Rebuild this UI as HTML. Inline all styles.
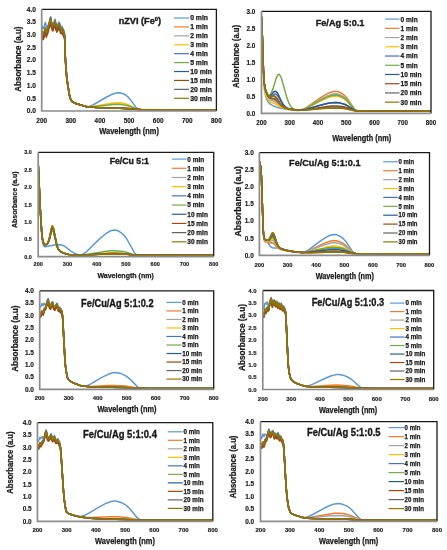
<!DOCTYPE html>
<html><head><meta charset="utf-8"><style>
html,body{margin:0;padding:0;background:#fff;}
svg{display:block;will-change:transform;filter:blur(0.3px);}
text{font-family:"Liberation Sans",sans-serif;font-weight:bold;fill:#1a1a1a;stroke:#1a1a1a;stroke-width:0.25px;}
.tl{stroke-width:0.15px;}
.tt{stroke-width:0.35px;}
</style></head><body>
<svg width="447" height="550" viewBox="0 0 447 550">
<rect width="447" height="550" fill="#fff"/>
<clipPath id="c0"><rect x="41.7" y="8.8" width="174.7" height="102.2"/></clipPath>
<g clip-path="url(#c0)" fill="none" stroke-width="1.5" stroke-linejoin="round">
<polyline stroke="#5B9BD5" points="41.7,30.8 42,27.7 42.3,26.5 42.9,27.1 43.2,28.4 43.4,28.7 43.7,28.1 44,28.1 44.6,24.6 44.9,24.2 45.2,22.6 45.8,23.7 46.4,27.8 46.6,26.9 46.9,26.8 47.2,27.8 47.5,27.4 48.1,25 48.4,24.6 49,22.4 49.3,22 50.1,18 50.7,16.6 51.9,23.5 52.2,23.1 52.5,24.1 52.8,24.1 53.1,24.6 53.3,22.8 53.6,22.2 53.9,22.7 54.5,20.3 55.1,19.1 56.3,24.7 56.5,25.1 57.4,25 57.7,24.3 58,24.6 58.6,22.1 59.5,22.4 60.6,26.7 60.9,26.9 61.2,26.4 61.8,26.6 62.1,26.4 62.7,28.3 63,28.3 63.2,28.7 64.4,32 64.7,34 65.3,54.4 66.2,69 67,77.7 69.1,92.3 69.7,95.6 70.8,99.8 71.4,100.7 72.3,101.6 74.6,103 76.6,103.8 86,106.5 87.1,106.6 89.5,106.2 92.9,105 105.8,97.5 111.6,94.5 116.2,93 119.7,92.7 123.2,93.7 125.6,95 127.9,96.8 130.2,99.4 136,107.4 137.2,108.5 138.4,109.1 139.5,109.4 157,109.7 216.4,110"/>
<polyline stroke="#ED7D31" points="41.7,37.5 42.6,33.9 43.2,36.3 43.7,36.4 44.3,34.6 44.9,31.4 45.2,31.8 45.5,30.2 46.4,34 46.9,33.5 47.8,31.6 48.1,29.3 48.7,28 49.9,23.7 50.4,20.8 50.7,20.3 51.3,24.9 51.9,27.5 52.8,28.1 53.1,27.9 53.3,27.2 53.6,27.3 53.9,25.7 54.2,25.3 54.5,25.5 55.4,24.3 56,28.1 56.3,28.4 56.8,30.5 57.1,30.2 57.4,29.1 57.7,29.1 58.3,27.1 59.2,26.1 60.6,31.4 60.9,30.5 61.5,31.3 62.1,30.1 62.4,31.7 63,33.4 63.2,33.3 63.5,34.7 63.8,34.2 64.1,34.9 64.7,38.2 65.3,58.2 66.2,72.2 67,80.3 69.1,93.5 69.9,97.4 71.1,100.3 72.6,101.9 74.9,103.2 84.8,106.2 89.5,106.9 97.6,107.4 119.7,107.7 127.9,108.2 138.4,109.4 159.3,109.7 216.4,110"/>
<polyline stroke="#A5A5A5" points="41.7,37.2 42,34.1 42.3,33 42.6,33 43.4,35.7 44,34.4 44.3,32.6 44.6,32.4 45.2,28.9 45.5,28.6 46.4,33.3 46.6,32.1 47.2,31.4 47.8,30.3 48.1,27.9 48.4,28 49,24.4 49.6,23.6 50.1,20.1 50.4,19.3 50.7,19 51.6,25.1 51.9,25.3 52.5,27.4 52.8,27.8 53.1,26.7 53.3,26.6 53.9,25.1 54.5,22.8 54.8,23.6 55.1,23 55.7,24.1 56.5,28.5 57.4,27.1 57.7,27.4 58,26.1 58.6,25.4 58.9,24.1 59.2,25 59.5,24.9 59.8,27.2 60,28.2 60.3,27.9 60.6,29.8 60.9,29.3 61.2,29.5 61.5,28.9 61.8,29.5 62.1,29.4 62.4,29.9 62.7,29.9 63,31.3 63.5,32.1 63.8,33.7 64.1,33.7 64.7,36.8 65.3,57 66.2,71.2 67,79.5 69.1,93.1 69.9,97.2 71.1,100.3 72.6,101.9 74.9,103.2 86,106.5 89.5,107 94.1,107.3 119.7,107.9 127.9,108.4 137.2,109.4 140.7,109.5 168.6,109.8 216.4,110"/>
<polyline stroke="#FFC000" points="41.7,38.2 42.3,33.6 42.6,33.3 42.9,33.9 43.2,35.8 43.4,36.1 44,35 45.5,29.3 46.4,33.8 46.6,33.8 47.2,31.5 47.5,31.9 47.8,30 48.1,29.8 48.4,28.5 48.7,26.3 49,26.5 49.6,23 49.9,22.9 50.7,20.1 51,20.6 51.3,24 51.6,24.7 51.9,26.4 52.2,26.4 52.8,28.2 53.1,28 53.3,27 53.6,26.9 53.9,25.3 54.2,25.6 54.5,24.9 54.8,22.8 55.1,23.6 55.4,23.9 56.3,28.5 56.5,28.1 56.8,28.4 57.1,28.2 57.4,29.1 58.3,26 58.6,26 58.9,25.3 59.2,25.1 60.6,30.7 60.9,30.7 61.2,29.6 61.5,30.2 61.8,29.7 62.4,29.6 63.2,33.2 63.5,33.7 63.8,33.3 64.1,33.9 64.7,37.5 65.3,57.6 66.2,71.7 67,79.9 69.1,93.3 69.9,97.3 71.1,100.3 72.6,101.9 74.9,103.2 84.8,106.2 87.1,106.7 89.5,106.7 94.1,106.3 111.6,103.3 116.2,102.9 119.7,102.8 123.2,103.3 126.7,104.2 130.2,105.6 136,108.6 138.4,109.3 140.7,109.5 168.6,109.8 216.4,110"/>
<polyline stroke="#4472C4" points="41.7,36.4 42,34 42.3,32.7 42.6,32.2 43.2,34.9 43.4,35.2 43.7,35.1 44,33.3 44.6,31.7 44.9,29.8 45.5,28.1 46.4,32.8 46.9,31 47.2,31.3 47.5,29.1 47.8,29.3 48.4,25.8 49.3,24 49.9,20.7 50.1,20.4 50.4,18.3 50.7,18.9 51,18.9 51.3,22.8 51.6,24.2 51.9,24.2 52.2,25.2 52.8,25.9 53.1,25.8 53.3,25.3 53.6,25.3 53.9,24.3 54.2,24 54.5,22.4 54.8,21.9 55.1,22.3 55.4,23.3 55.7,23.4 56.5,27.3 56.8,27.2 57.1,27.6 58.3,26.1 58.6,24.5 59.2,23.8 60,27.5 60.6,29 60.9,28.5 61.2,29.1 61.8,28.4 62.4,29.6 62.7,29.7 63.5,32.1 63.8,32.2 64.1,32.7 64.7,36.1 65.3,56.3 66.2,70.6 67,79 69.1,92.9 69.9,97.1 71.1,100.3 72.6,101.9 74.9,103.2 86,106.5 90.6,107.1 96.4,107.5 119.7,108.2 140.7,109.5 168.6,109.8 216.4,110"/>
<polyline stroke="#70AD47" points="41.7,38.9 42,36.9 42.6,35.2 43.7,37.6 44,36 44.3,35.6 44.6,34.5 45.2,31.2 45.5,31.8 45.8,31.9 46.4,35.4 46.9,33.7 47.2,33.6 49,26.5 49.6,25.7 50.7,20.7 51.9,27.9 52.5,29.6 52.8,28.9 53.1,29.7 53.3,27.7 53.9,26.8 54.2,26.6 54.5,24.9 54.8,24.2 55.1,25.2 55.4,25 56.5,30.2 57.1,29.6 57.4,30.1 57.7,28.8 58.3,28.7 58.6,27.8 58.9,27.5 59.2,26.1 59.5,26.6 59.8,29.2 60,29.6 60.6,32 61.2,32.1 61.5,31.2 61.8,32.1 62.1,31.8 62.4,31.7 62.7,33.2 63,33.3 63.2,34.2 63.5,34.3 63.8,35.7 64.4,36.9 64.7,38.9 65.3,58.9 66.2,72.8 67,80.8 69.1,93.7 69.9,97.5 71.1,100.3 72.6,101.9 75.2,103.3 84.8,106.2 87.1,106.7 89.5,106.8 95.3,106.5 112.7,104.5 117.4,104.3 120.9,104.5 124.4,104.9 127.9,105.7 136,108.8 137.2,109.2 139.5,109.4 161.7,109.8 216.4,110"/>
<polyline stroke="#255E91" points="41.7,37.5 42,35 42.6,33.1 43.2,34.8 43.7,35.4 44.6,31.7 45.2,30.2 45.5,29.9 46.1,31.9 46.4,33.9 47.8,29.2 48.1,29.3 48.7,26.4 49.9,22.4 50.1,21.9 50.4,20 50.7,19.5 51.6,24.5 52.2,26.7 52.8,27.7 53.1,27.7 53.3,27.4 54.2,24 54.5,23.3 54.8,23.2 55.1,22.2 56,26.6 56.5,27.7 56.8,29.1 57.1,29.1 57.4,27.9 57.7,27.5 58.3,27.2 58.9,25.3 59.5,25 59.8,26.7 60.9,30.1 61.2,29.6 62.1,29.3 63,31.6 64.1,33.7 64.4,34.7 64.7,37.2 65.3,57.3 66.2,71.4 67,79.7 69.1,93.2 69.9,97.3 71.1,100.3 72.6,101.9 74.9,103.2 86,106.5 90.6,107.1 96.4,107.5 119.7,108.2 140.7,109.5 168.6,109.8 216.4,110"/>
<polyline stroke="#9E480E" points="41.7,40.2 42.6,36.2 42.9,36.6 43.4,39.6 43.7,38.1 44.6,35.9 45.2,32.8 45.5,32.8 45.8,33.9 46.4,37.2 46.9,35 47.5,34.1 48.4,31.2 49,28 49.3,27.9 49.6,27.2 49.9,25.1 50.7,22.5 51,23.4 51.3,26.7 52.5,30.8 52.8,30.5 53.1,30.8 53.3,29.7 53.6,29.5 54.2,27.1 54.5,27.2 54.8,26.8 55.1,25.4 55.7,27.8 56,30.4 56.3,30 56.8,32.2 57.7,30.3 58,30.6 58.3,29.4 58.6,29.4 58.9,27.6 59.2,28.2 59.5,28.1 60.3,32.4 60.9,33.8 61.2,33.7 61.5,32.6 61.8,33 62.1,32.3 62.4,33.5 62.7,33.6 63.5,36.8 63.8,36.8 64.1,37.3 64.7,40.3 65.3,60.1 66.2,73.8 67,81.6 69.1,94.1 69.9,97.7 71.1,100.3 72.6,101.9 75.2,103.3 84.8,106.2 89.5,107 97.6,107.4 120.9,108 127.9,108.4 138.4,109.4 160.5,109.7 216.4,110"/>
<polyline stroke="#636363" points="41.7,37 42.3,33 42.6,32.1 43.2,35.3 43.7,34.3 44.6,31.6 44.9,29.8 45.2,29.9 45.5,28.6 46.4,32.7 46.9,32.3 47.5,29.6 47.8,29.2 48.4,27.3 48.7,25.5 49,25 49.9,21 50.1,21.2 50.4,18.8 50.7,18.1 51.6,24.1 51.9,24.6 52.2,26.2 52.5,26 53.1,27.1 53.3,25.3 53.6,25.9 54.2,23.6 54.5,23.8 54.8,22.7 55.4,23 55.7,23.9 56.5,28.4 56.8,27.6 57.1,28.6 57.4,27.8 58.3,26.4 58.9,24.1 59.2,24 59.5,24.4 60,27.5 60.6,28.3 61.2,29.7 61.5,29.8 61.8,28.3 62.1,28.7 62.7,29.9 63.5,33.1 63.8,33 64.1,33.6 64.7,36.5 65.3,56.6 66.2,70.9 67,79.2 69.4,94.7 70.2,98.2 71.1,100.3 72.6,101.9 74.9,103.2 86,106.5 90.6,107.1 96.4,107.5 119.7,108.2 140.7,109.5 168.6,109.8 216.4,110"/>
<polyline stroke="#997300" points="41.7,35.2 42.3,32.2 42.6,31.6 43.2,33.5 43.7,34.5 44,32.3 44.3,32.3 44.6,30.1 45.2,28.1 46.1,30.5 46.4,32 46.6,31.9 46.9,30.3 47.2,31 47.5,29.4 48.1,27.9 49,23.5 49.3,23.8 49.6,22 49.9,21.7 50.1,19.3 50.7,18.7 51,19.4 51.9,25.1 52.2,24.9 53.1,26.2 55.1,20.8 55.7,24.4 56,24.9 56.3,26.2 56.5,26.3 56.8,27 57.7,26.1 58.3,24.5 58.6,24.7 59.2,23.8 59.5,24.1 59.8,26.1 60.3,27.4 60.6,29 60.9,28.2 61.5,28.7 62.1,28.4 62.7,29 63.5,32.2 63.8,31.5 64.7,35.8 65.3,56 66.2,70.4 67,78.8 69.1,92.8 69.9,97.1 71.1,100.3 72.6,101.9 74.9,103.2 86,106.5 90.6,107.1 96.4,107.5 119.7,108.2 140.7,109.5 168.6,109.8 216.4,110"/>
</g>
<path d="M41.7 9.3H216.4V111" fill="none" stroke="#1a1a1a" stroke-width="1.3"/>
<path d="M41.7 9.3V111H216.4" fill="none" stroke="#8c8c8c" stroke-width="1.7"/>
<text x="26.8" y="113.29" font-size="6.4" textLength="9.2" lengthAdjust="spacingAndGlyphs" class="tl">0.0</text>
<text x="26.8" y="100.58" font-size="6.4" textLength="9.2" lengthAdjust="spacingAndGlyphs" class="tl">0.5</text>
<text x="26.8" y="87.87" font-size="6.4" textLength="9.2" lengthAdjust="spacingAndGlyphs" class="tl">1.0</text>
<text x="26.8" y="75.15" font-size="6.4" textLength="9.2" lengthAdjust="spacingAndGlyphs" class="tl">1.5</text>
<text x="26.8" y="62.44" font-size="6.4" textLength="9.2" lengthAdjust="spacingAndGlyphs" class="tl">2.0</text>
<text x="26.8" y="49.73" font-size="6.4" textLength="9.2" lengthAdjust="spacingAndGlyphs" class="tl">2.5</text>
<text x="26.8" y="37.02" font-size="6.4" textLength="9.2" lengthAdjust="spacingAndGlyphs" class="tl">3.0</text>
<text x="26.8" y="24.3" font-size="6.4" textLength="9.2" lengthAdjust="spacingAndGlyphs" class="tl">3.5</text>
<text x="26.8" y="11.59" font-size="6.4" textLength="9.2" lengthAdjust="spacingAndGlyphs" class="tl">4.0</text>
<text x="36.35" y="122.59" font-size="6.4" textLength="10.7" lengthAdjust="spacingAndGlyphs" class="tl">200</text>
<text x="65.47" y="122.59" font-size="6.4" textLength="10.7" lengthAdjust="spacingAndGlyphs" class="tl">300</text>
<text x="94.58" y="122.59" font-size="6.4" textLength="10.7" lengthAdjust="spacingAndGlyphs" class="tl">400</text>
<text x="123.7" y="122.59" font-size="6.4" textLength="10.7" lengthAdjust="spacingAndGlyphs" class="tl">500</text>
<text x="152.82" y="122.59" font-size="6.4" textLength="10.7" lengthAdjust="spacingAndGlyphs" class="tl">600</text>
<text x="181.93" y="122.59" font-size="6.4" textLength="10.7" lengthAdjust="spacingAndGlyphs" class="tl">700</text>
<text x="211.05" y="122.59" font-size="6.4" textLength="10.7" lengthAdjust="spacingAndGlyphs" class="tl">800</text>
<text class="tt" x="118.7" y="24.1" font-size="8.2" textLength="42.3" lengthAdjust="spacingAndGlyphs">nZVI (Fe<tspan dy="-3.12" font-size="5.08">0</tspan><tspan dy="3.12">)</tspan></text>
<text x="99.3" y="134.31" font-size="8.4" textLength="59.6" lengthAdjust="spacingAndGlyphs">Wavelength (nm)</text>
<text transform="translate(21.2 91.7) rotate(-90)" x="0" y="0" font-size="8.2" textLength="65.2" lengthAdjust="spacingAndGlyphs">Absorbance (a.u)</text>
<line x1="174" y1="18" x2="189" y2="18" stroke="#5B9BD5" stroke-width="1.2"/>
<text x="190.2" y="20.47" font-size="6.9" textLength="17.8" lengthAdjust="spacingAndGlyphs">0 min</text>
<line x1="174" y1="26.92" x2="189" y2="26.92" stroke="#ED7D31" stroke-width="1.2"/>
<text x="190.2" y="29.39" font-size="6.9" textLength="17.8" lengthAdjust="spacingAndGlyphs">1 min</text>
<line x1="174" y1="35.84" x2="189" y2="35.84" stroke="#A5A5A5" stroke-width="1.2"/>
<text x="190.2" y="38.31" font-size="6.9" textLength="17.8" lengthAdjust="spacingAndGlyphs">2 min</text>
<line x1="174" y1="44.76" x2="189" y2="44.76" stroke="#FFC000" stroke-width="1.2"/>
<text x="190.2" y="47.23" font-size="6.9" textLength="17.8" lengthAdjust="spacingAndGlyphs">3 min</text>
<line x1="174" y1="53.68" x2="189" y2="53.68" stroke="#4472C4" stroke-width="1.2"/>
<text x="190.2" y="56.15" font-size="6.9" textLength="17.8" lengthAdjust="spacingAndGlyphs">4 min</text>
<line x1="174" y1="62.6" x2="189" y2="62.6" stroke="#70AD47" stroke-width="1.2"/>
<text x="190.2" y="65.07" font-size="6.9" textLength="17.8" lengthAdjust="spacingAndGlyphs">5 min</text>
<line x1="174" y1="71.52" x2="189" y2="71.52" stroke="#255E91" stroke-width="1.2"/>
<text x="190.2" y="73.99" font-size="6.9" textLength="21.72" lengthAdjust="spacingAndGlyphs">10 min</text>
<line x1="174" y1="80.44" x2="189" y2="80.44" stroke="#9E480E" stroke-width="1.2"/>
<text x="190.2" y="82.91" font-size="6.9" textLength="21.72" lengthAdjust="spacingAndGlyphs">15 min</text>
<line x1="174" y1="89.36" x2="189" y2="89.36" stroke="#636363" stroke-width="1.2"/>
<text x="190.2" y="91.83" font-size="6.9" textLength="21.72" lengthAdjust="spacingAndGlyphs">20 min</text>
<line x1="174" y1="98.28" x2="189" y2="98.28" stroke="#997300" stroke-width="1.2"/>
<text x="190.2" y="100.75" font-size="6.9" textLength="21.72" lengthAdjust="spacingAndGlyphs">30 min</text>
<clipPath id="c1"><rect x="261.5" y="10.95" width="169.5" height="102.45"/></clipPath>
<g clip-path="url(#c1)" fill="none" stroke-width="1.5" stroke-linejoin="round">
<polyline stroke="#5B9BD5" points="261.5,16.9 262.3,36.3 263.2,68.7 263.8,80.8 264.3,88.5 265.5,95.2 266,97.2 267.1,100 268,101.7 268.8,102.8 270,103.9 271.4,104.8 273.9,106.1 276.8,107.2 283,108.8 291.2,109.9 297.7,110.4 299.9,110.4 303.3,109.5 305.6,108.6 320.3,99.8 327,96.3 331.6,94.6 333.8,94.2 336.1,94 338.3,94.5 340.6,95.3 342.9,96.5 345.1,98.1 347.4,100.4 354.2,109 355.3,110 356.4,110.6 357.6,110.8 359.8,111 431,111"/>
<polyline stroke="#ED7D31" points="261.5,16.9 262.3,35.1 263.5,71.7 264.3,84.2 265.2,89.3 266,92.2 267.4,95.6 268,96.7 269.1,98 270.3,98.8 273.6,99.5 275.3,100.3 277,101.6 281,105.4 283.5,107.2 286.6,108.5 291.2,109.4 298.8,110.2 301.1,109.9 304.4,108.6 306.7,107.4 320.3,97.9 327,93.9 331.6,92 333.8,91.5 336.1,91.3 338.3,91.8 340.6,92.7 342.9,94.2 345.1,96 347.4,98.7 354.2,108.7 355.3,109.8 356.4,110.5 357.6,110.8 359.8,111 431,111"/>
<polyline stroke="#A5A5A5" points="261.5,16.9 262.3,35.3 263.5,72.3 264.3,84.8 265.2,90 266,93 267.4,96.4 268.3,98 269.4,99.3 270.5,100 273.6,101.1 275.3,102 280.4,105.8 282.4,107 285.5,108.3 290,109.3 298.8,110.2 301.1,110 304.4,108.9 306.7,107.8 320.3,99.7 327,96.3 331.6,94.6 333.8,94.2 336.1,94 338.3,94.5 340.6,95.3 342.9,96.5 345.1,98.1 347.4,100.4 354.2,109 355.3,110 356.4,110.6 357.6,110.8 359.8,111 431,111"/>
<polyline stroke="#FFC000" points="261.5,16.9 262.3,35.8 263.2,67.5 263.8,79.3 264.3,86.8 265.2,92.1 266.3,95.9 268,99.7 269.1,101.1 270.3,102 275.1,103.9 281.6,107.5 284.7,108.6 287.5,109.2 291.4,109.7 297.7,110.3 299.9,110.3 303.3,109.5 305.6,108.8 320.3,101.1 327,98 331.6,96.6 333.8,96.2 336.1,96.1 338.3,96.5 340.6,97.2 342.9,98.2 345.1,99.6 347.4,101.7 354.2,109.2 355.3,110.1 356.4,110.6 357.6,110.9 359.8,111 431,111"/>
<polyline stroke="#4472C4" points="261.5,16.9 262.3,34.9 263.5,71.2 264.3,83.5 265.5,89.7 266,91.4 267.7,95.3 268.6,96.4 269.4,97.1 270.3,97.2 271.1,96.9 273.9,94.6 274.8,94.1 275.6,94.1 276.8,94.7 278.4,96.8 283,104.6 284.7,106.6 286.4,107.8 288.9,108.8 292.9,109.5 298.8,110.1 302.2,110 306.7,109.2 320.3,105.3 327,103.6 331.6,102.8 336.1,102.5 340.6,103.1 345.1,104.5 347.4,105.7 354.2,110 355.3,110.5 357.6,110.9 431,111"/>
<polyline stroke="#70AD47" points="261.5,16.9 262.3,34.9 263.2,65.1 264,80.4 264.6,85.4 265.5,89.4 266,91 267.1,93.4 267.7,94.4 268.3,94.9 269.1,95.2 270,94.8 271.4,92.7 273.1,88.4 276.5,77.4 277.6,75.1 278.2,74.4 278.7,74.3 279.3,74.5 280.1,75.5 281.6,78.7 286.6,96.9 288.9,103.1 290.3,105.7 291.7,107.5 293.4,108.7 295.4,109.5 297.7,110 299.9,110.1 304.4,109 310.1,106.2 320.3,100.4 325.9,97.6 331.6,95.6 333.8,95.2 336.1,95 338.3,95.5 340.6,96.2 342.9,97.3 345.1,98.9 347.4,101 354.2,109.1 355.3,110 356.4,110.6 357.6,110.8 359.8,111 431,111"/>
<polyline stroke="#255E91" points="261.5,16.9 262.3,34.9 263.5,71.2 264.3,83.5 265.5,89.6 266,91.3 267.7,95 268.6,95.9 269.4,96.2 270,96.1 270.8,95.6 274.2,91.6 275.3,91.2 276.2,91.6 277,92.5 278.2,94.3 281.6,101.7 283,104.2 284.7,106.4 286.6,107.9 289.2,108.9 293.1,109.6 298.8,110.1 302.2,110 306.7,109.2 320.3,105.3 327,103.6 331.6,102.8 336.1,102.5 340.6,103.1 345.1,104.5 347.4,105.7 354.2,110 355.3,110.5 357.6,110.9 431,111"/>
<polyline stroke="#9E480E" points="261.5,16.9 262.3,34.9 263.5,71.2 264.3,83.5 265.2,88.6 266,91.4 267.1,94.1 268,95.8 268.6,96.4 269.4,97 270.3,97.2 273.4,96 274.2,96 275.1,96.3 276.8,98 280.1,103.2 281.6,105.1 283,106.5 284.4,107.4 286.9,108.4 290.6,109.2 296.5,109.9 301.1,110.2 306.7,109.7 327,106.5 331.6,106.1 336.1,105.9 340.6,106.3 345.1,107.1 347.4,107.8 354.2,110.4 357.6,111 431,111"/>
<polyline stroke="#636363" points="261.5,16.9 262.3,34.9 263.5,71.2 264.3,83.5 265.2,88.6 266,91.5 267.4,95 268,96.1 268.8,97.2 270.3,98.2 273.6,98.5 275.3,99.2 277,100.8 281,105.3 283.5,107.2 286.1,108.2 289.5,109 294.6,109.7 299.9,110.2 305.6,110 327,107.4 331.6,107 336.1,106.9 340.6,107.2 345.1,107.9 354.2,110.5 357.6,111 431,111"/>
<polyline stroke="#997300" points="261.5,16.9 262.3,34.9 263.5,71.2 264.3,83.5 265.2,88.5 266,91.3 267.4,94.4 268.3,95.7 269.7,96.5 272.8,96 273.6,96.1 274.5,96.6 276.2,98.5 280.4,104.6 281.8,106.1 283.5,107.2 286.1,108.2 289.5,109 294.6,109.7 299.9,110.2 306.7,110.1 327,108.3 336.1,107.9 340.6,108.2 345.1,108.7 354.2,110.7 357.6,111 431,111"/>
</g>
<path d="M261.5 11.45H431V113.4" fill="none" stroke="#1a1a1a" stroke-width="1.3"/>
<path d="M261.5 11.45V113.4H431" fill="none" stroke="#8c8c8c" stroke-width="1.7"/>
<text x="246.6" y="115.69" font-size="6.4" textLength="8.8" lengthAdjust="spacingAndGlyphs" class="tl">0.0</text>
<text x="246.6" y="98.7" font-size="6.4" textLength="8.8" lengthAdjust="spacingAndGlyphs" class="tl">0.5</text>
<text x="246.6" y="81.71" font-size="6.4" textLength="8.8" lengthAdjust="spacingAndGlyphs" class="tl">1.0</text>
<text x="246.6" y="64.72" font-size="6.4" textLength="8.8" lengthAdjust="spacingAndGlyphs" class="tl">1.5</text>
<text x="246.6" y="47.72" font-size="6.4" textLength="8.8" lengthAdjust="spacingAndGlyphs" class="tl">2.0</text>
<text x="246.6" y="30.73" font-size="6.4" textLength="8.8" lengthAdjust="spacingAndGlyphs" class="tl">2.5</text>
<text x="246.6" y="13.74" font-size="6.4" textLength="8.8" lengthAdjust="spacingAndGlyphs" class="tl">3.0</text>
<text x="256.35" y="124.59" font-size="6.4" textLength="10.3" lengthAdjust="spacingAndGlyphs" class="tl">200</text>
<text x="284.6" y="124.59" font-size="6.4" textLength="10.3" lengthAdjust="spacingAndGlyphs" class="tl">300</text>
<text x="312.85" y="124.59" font-size="6.4" textLength="10.3" lengthAdjust="spacingAndGlyphs" class="tl">400</text>
<text x="341.1" y="124.59" font-size="6.4" textLength="10.3" lengthAdjust="spacingAndGlyphs" class="tl">500</text>
<text x="369.35" y="124.59" font-size="6.4" textLength="10.3" lengthAdjust="spacingAndGlyphs" class="tl">600</text>
<text x="397.6" y="124.59" font-size="6.4" textLength="10.3" lengthAdjust="spacingAndGlyphs" class="tl">700</text>
<text x="425.85" y="124.59" font-size="6.4" textLength="10.3" lengthAdjust="spacingAndGlyphs" class="tl">800</text>
<text x="315.7" y="25.7" font-size="9" textLength="48.7" lengthAdjust="spacingAndGlyphs" class="tt">Fe/Ag 5:0.1</text>
<text x="332.2" y="141.31" font-size="8.4" textLength="59.1" lengthAdjust="spacingAndGlyphs">Wavelength (nm)</text>
<text transform="translate(238.5 87.9) rotate(-90)" x="0" y="0" font-size="8.2" textLength="63" lengthAdjust="spacingAndGlyphs">Absorbance (a.u)</text>
<line x1="385" y1="19.1" x2="399.5" y2="19.1" stroke="#5B9BD5" stroke-width="1.2"/>
<text x="400.5" y="21.53" font-size="6.8" textLength="17.2" lengthAdjust="spacingAndGlyphs">0 min</text>
<line x1="385" y1="28.33" x2="399.5" y2="28.33" stroke="#ED7D31" stroke-width="1.2"/>
<text x="400.5" y="30.76" font-size="6.8" textLength="17.2" lengthAdjust="spacingAndGlyphs">1 min</text>
<line x1="385" y1="37.56" x2="399.5" y2="37.56" stroke="#A5A5A5" stroke-width="1.2"/>
<text x="400.5" y="39.99" font-size="6.8" textLength="17.2" lengthAdjust="spacingAndGlyphs">2 min</text>
<line x1="385" y1="46.79" x2="399.5" y2="46.79" stroke="#FFC000" stroke-width="1.2"/>
<text x="400.5" y="49.22" font-size="6.8" textLength="17.2" lengthAdjust="spacingAndGlyphs">3 min</text>
<line x1="385" y1="56.02" x2="399.5" y2="56.02" stroke="#4472C4" stroke-width="1.2"/>
<text x="400.5" y="58.45" font-size="6.8" textLength="17.2" lengthAdjust="spacingAndGlyphs">4 min</text>
<line x1="385" y1="65.25" x2="399.5" y2="65.25" stroke="#70AD47" stroke-width="1.2"/>
<text x="400.5" y="67.68" font-size="6.8" textLength="17.2" lengthAdjust="spacingAndGlyphs">5 min</text>
<line x1="385" y1="74.48" x2="399.5" y2="74.48" stroke="#255E91" stroke-width="1.2"/>
<text x="400.5" y="76.91" font-size="6.8" textLength="20.98" lengthAdjust="spacingAndGlyphs">10 min</text>
<line x1="385" y1="83.71" x2="399.5" y2="83.71" stroke="#9E480E" stroke-width="1.2"/>
<text x="400.5" y="86.14" font-size="6.8" textLength="20.98" lengthAdjust="spacingAndGlyphs">15 min</text>
<line x1="385" y1="92.94" x2="399.5" y2="92.94" stroke="#636363" stroke-width="1.2"/>
<text x="400.5" y="95.37" font-size="6.8" textLength="20.98" lengthAdjust="spacingAndGlyphs">20 min</text>
<line x1="385" y1="102.17" x2="399.5" y2="102.17" stroke="#997300" stroke-width="1.2"/>
<text x="400.5" y="104.6" font-size="6.8" textLength="20.98" lengthAdjust="spacingAndGlyphs">30 min</text>
<clipPath id="c2"><rect x="38.2" y="151.9" width="175.5" height="104.7"/></clipPath>
<g clip-path="url(#c2)" fill="none" stroke-width="1.5" stroke-linejoin="round">
<polyline stroke="#5B9BD5" points="38.2,166.7 40.5,216.1 41.7,234.7 42.3,240.5 42.9,243.8 43.8,246 44.6,246.7 45.2,246.8 50.2,245.7 54.9,245.1 59.3,244.8 61.6,245 63.1,245.5 64.8,246.4 71.3,251.3 74.5,253.2 78,254.6 80.3,254.9 82.7,254.2 85,252.9 86.2,252 99,239.4 102.5,236.3 106.1,233.5 110.7,230.7 114.2,229.9 116.6,230.3 118.9,231.3 121.3,232.8 123.6,234.9 126,237.7 127.1,239.5 134.1,252.1 135.3,253.6 136.5,254.7 138.8,255.4 213.7,255.6"/>
<polyline stroke="#ED7D31" points="38.2,163.2 40.5,213 41.7,231.9 42.3,237.8 42.9,241.3 43.8,243.7 44.6,244.6 45.2,244.7 46.7,244.4 47.6,243.7 48.1,242.8 49.3,239.6 51.4,231.3 51.9,229.9 52.2,229.6 52.5,229.6 53.1,230.4 53.7,232.1 56.9,245.9 57.8,248.3 58.7,249.8 60.1,251.3 62.5,252.6 65.7,253.7 69.2,254.5 74.5,255 81.5,255.2 106.1,253.7 114.2,253.5 123.6,253.8 134.1,255 138.8,255.2 213.7,255.2"/>
<polyline stroke="#A5A5A5" points="38.2,163.2 40.5,213 41.7,231.9 42.3,237.8 42.9,241.3 43.8,243.7 44.6,244.6 45.2,244.7 46.7,244.3 47.6,243.6 48.1,242.7 49.3,239.3 51.4,230.7 51.9,229.2 52.2,228.9 52.5,228.9 53.1,229.7 53.7,231.5 56.9,245.8 58.4,249.3 59.8,251.1 61.9,252.3 65.4,253.6 69.2,254.5 74.5,255 81.5,255.1 106.1,253.4 114.2,253.1 123.6,253.5 134.1,254.9 138.8,255.2 213.7,255.2"/>
<polyline stroke="#FFC000" points="38.2,163.2 40.5,213 41.7,231.9 42.3,237.8 42.9,241.3 43.8,243.7 44.6,244.6 45.2,244.7 46.7,244.3 47.6,243.6 48.1,242.6 49.3,239.1 51.4,230.1 51.9,228.6 52.2,228.2 52.5,228.2 53.1,229.1 53.7,230.9 56.9,245.7 58.4,249.3 59.8,251.1 61.9,252.3 65.1,253.5 68.9,254.4 74.5,255 81.5,255.1 86.2,254.9 106.1,253.1 114.2,252.8 123.6,253.3 134.1,254.9 138.8,255.2 213.7,255.2"/>
<polyline stroke="#4472C4" points="38.2,163.2 40.5,213 41.7,231.9 42.3,237.8 42.9,241.3 43.8,243.7 44.6,244.6 45.2,244.7 46.7,244.4 47.6,243.7 48.1,242.8 49.3,239.6 51.4,231.3 51.9,229.9 52.2,229.6 52.5,229.6 53.1,230.4 53.7,232.1 56.9,245.9 57.8,248.3 58.7,249.8 60.1,251.3 62.5,252.6 65.7,253.7 69.2,254.5 74.5,255 81.5,255.2 106.1,253.7 114.2,253.5 123.6,253.8 134.1,255 138.8,255.2 213.7,255.2"/>
<polyline stroke="#70AD47" points="38.2,163.2 40.5,213 41.7,231.9 42.3,237.8 42.9,241.3 43.8,243.7 44.6,244.6 45.2,244.7 46.7,244.4 47.6,243.7 48.1,242.9 49.3,239.8 51.4,231.9 51.9,230.6 52.2,230.3 52.5,230.3 53.1,231.1 53.7,232.7 56.9,246.1 57.8,248.4 58.7,249.9 60.1,251.3 62.5,252.6 66,253.8 69.5,254.5 75.6,255.1 80.3,255.2 82.7,255 86.2,254.6 104.9,251.5 110.7,250.8 114.2,250.7 118.9,250.9 123.6,251.6 127.1,252.4 134.1,254.6 136.5,255.1 138.8,255.2 213.7,255.2"/>
<polyline stroke="#255E91" points="38.2,163.2 40.5,213 41.7,231.9 42.3,237.8 42.9,241.3 43.8,243.7 44.6,244.6 45.2,244.7 46.7,244.3 47.6,243.5 48.1,242.5 49.3,239 51.4,229.8 51.9,228.2 52.2,227.9 52.5,227.9 53.1,228.7 53.7,230.5 56.9,245.6 58.4,249.3 59.6,250.8 61.6,252.2 65.1,253.5 68.9,254.4 74.5,255 81.5,255.2 106.1,253.7 114.2,253.5 123.6,253.8 134.1,255 138.8,255.2 213.7,255.2"/>
<polyline stroke="#9E480E" points="38.2,163.2 40.5,213 41.7,231.9 42.3,237.8 42.9,241.3 43.8,243.7 44.6,244.6 45.2,244.7 46.7,244.3 47.6,243.5 48.1,242.4 49.3,238.6 51.4,228.9 51.9,227.2 52.2,226.8 52.5,226.8 53.1,227.7 53.7,229.6 56.9,245.4 58.4,249.2 59.6,250.8 61.6,252.2 64.8,253.4 68.6,254.4 74.5,255 81.5,255.2 106.1,253.7 114.2,253.5 123.6,253.8 134.1,255 138.8,255.2 213.7,255.2"/>
<polyline stroke="#636363" points="38.2,163.2 40.5,213 41.7,231.9 42.3,237.8 42.9,241.3 43.8,243.7 44.6,244.6 45.2,244.7 46.7,244.3 47.6,243.5 48.1,242.5 49.3,238.9 51.4,229.5 51.9,227.9 52.2,227.5 52.5,227.5 53.1,228.4 53.7,230.2 56.9,245.5 58.4,249.3 59.6,250.8 61.6,252.2 65.1,253.5 68.9,254.4 74.5,255 81.5,255.2 106.1,254 114.2,253.8 123.6,254.1 134.1,255 138.8,255.2 213.7,255.2"/>
<polyline stroke="#997300" points="38.2,163.2 40.5,213 41.7,231.9 42.3,237.8 42.9,241.3 43.8,243.7 44.6,244.5 45.2,244.7 46.7,244.3 47.6,243.4 48.1,242.3 49.3,238.3 51.4,228 51.9,226.2 52.2,225.8 52.5,225.8 53.1,226.7 53.7,228.7 56.9,245.1 58.4,249.2 59.6,250.7 61.6,252.2 64.8,253.4 68.6,254.4 74.5,255 81.5,255.2 106.1,254 114.2,253.8 123.6,254.1 134.1,255 138.8,255.2 213.7,255.2"/>
</g>
<path d="M38.2 152.4H213.7V256.6" fill="none" stroke="#1a1a1a" stroke-width="1.3"/>
<path d="M38.2 152.4V256.6H213.7" fill="none" stroke="#8c8c8c" stroke-width="1.7"/>
<text x="24.3" y="258.6" font-size="5.6" textLength="7.6" lengthAdjust="spacingAndGlyphs" class="tl">0.0</text>
<text x="24.3" y="241.24" font-size="5.6" textLength="7.6" lengthAdjust="spacingAndGlyphs" class="tl">0.5</text>
<text x="24.3" y="223.87" font-size="5.6" textLength="7.6" lengthAdjust="spacingAndGlyphs" class="tl">1.0</text>
<text x="24.3" y="206.5" font-size="5.6" textLength="7.6" lengthAdjust="spacingAndGlyphs" class="tl">1.5</text>
<text x="24.3" y="189.14" font-size="5.6" textLength="7.6" lengthAdjust="spacingAndGlyphs" class="tl">2.0</text>
<text x="24.3" y="171.77" font-size="5.6" textLength="7.6" lengthAdjust="spacingAndGlyphs" class="tl">2.5</text>
<text x="24.3" y="154.4" font-size="5.6" textLength="7.6" lengthAdjust="spacingAndGlyphs" class="tl">3.0</text>
<text x="33.55" y="266.48" font-size="5.8" textLength="9.3" lengthAdjust="spacingAndGlyphs" class="tl">200</text>
<text x="62.8" y="266.48" font-size="5.8" textLength="9.3" lengthAdjust="spacingAndGlyphs" class="tl">300</text>
<text x="92.05" y="266.48" font-size="5.8" textLength="9.3" lengthAdjust="spacingAndGlyphs" class="tl">400</text>
<text x="121.3" y="266.48" font-size="5.8" textLength="9.3" lengthAdjust="spacingAndGlyphs" class="tl">500</text>
<text x="150.55" y="266.48" font-size="5.8" textLength="9.3" lengthAdjust="spacingAndGlyphs" class="tl">600</text>
<text x="179.8" y="266.48" font-size="5.8" textLength="9.3" lengthAdjust="spacingAndGlyphs" class="tl">700</text>
<text x="209.05" y="266.48" font-size="5.8" textLength="9.3" lengthAdjust="spacingAndGlyphs" class="tl">800</text>
<text x="109.7" y="164.1" font-size="8.2" textLength="39.3" lengthAdjust="spacingAndGlyphs" class="tt">Fe/Cu 5:1</text>
<text x="97.4" y="277.59" font-size="7.8" textLength="56.4" lengthAdjust="spacingAndGlyphs">Wavelength (nm)</text>
<text transform="translate(16.8 227.9) rotate(-90)" x="0" y="0" font-size="7.6" textLength="56.4" lengthAdjust="spacingAndGlyphs">Absorbance (a.u)</text>
<line x1="171.8" y1="159.1" x2="186.4" y2="159.1" stroke="#5B9BD5" stroke-width="1.2"/>
<text x="187.3" y="161.53" font-size="6.8" textLength="16.9" lengthAdjust="spacingAndGlyphs">0 min</text>
<line x1="171.8" y1="168.29" x2="186.4" y2="168.29" stroke="#ED7D31" stroke-width="1.2"/>
<text x="187.3" y="170.72" font-size="6.8" textLength="16.9" lengthAdjust="spacingAndGlyphs">1 min</text>
<line x1="171.8" y1="177.48" x2="186.4" y2="177.48" stroke="#A5A5A5" stroke-width="1.2"/>
<text x="187.3" y="179.91" font-size="6.8" textLength="16.9" lengthAdjust="spacingAndGlyphs">2 min</text>
<line x1="171.8" y1="186.67" x2="186.4" y2="186.67" stroke="#FFC000" stroke-width="1.2"/>
<text x="187.3" y="189.1" font-size="6.8" textLength="16.9" lengthAdjust="spacingAndGlyphs">3 min</text>
<line x1="171.8" y1="195.86" x2="186.4" y2="195.86" stroke="#4472C4" stroke-width="1.2"/>
<text x="187.3" y="198.29" font-size="6.8" textLength="16.9" lengthAdjust="spacingAndGlyphs">4 min</text>
<line x1="171.8" y1="205.05" x2="186.4" y2="205.05" stroke="#70AD47" stroke-width="1.2"/>
<text x="187.3" y="207.48" font-size="6.8" textLength="16.9" lengthAdjust="spacingAndGlyphs">5 min</text>
<line x1="171.8" y1="214.24" x2="186.4" y2="214.24" stroke="#255E91" stroke-width="1.2"/>
<text x="187.3" y="216.67" font-size="6.8" textLength="20.62" lengthAdjust="spacingAndGlyphs">10 min</text>
<line x1="171.8" y1="223.43" x2="186.4" y2="223.43" stroke="#9E480E" stroke-width="1.2"/>
<text x="187.3" y="225.86" font-size="6.8" textLength="20.62" lengthAdjust="spacingAndGlyphs">15 min</text>
<line x1="171.8" y1="232.62" x2="186.4" y2="232.62" stroke="#636363" stroke-width="1.2"/>
<text x="187.3" y="235.05" font-size="6.8" textLength="20.62" lengthAdjust="spacingAndGlyphs">20 min</text>
<line x1="171.8" y1="241.81" x2="186.4" y2="241.81" stroke="#997300" stroke-width="1.2"/>
<text x="187.3" y="244.24" font-size="6.8" textLength="20.62" lengthAdjust="spacingAndGlyphs">30 min</text>
<clipPath id="c3"><rect x="259.4" y="152.1" width="170.1" height="103.3"/></clipPath>
<g clip-path="url(#c3)" fill="none" stroke-width="1.5" stroke-linejoin="round">
<polyline stroke="#5B9BD5" points="259.4,161.2 259.7,161.5 260,162.5 260.5,165.9 261.4,175.9 263.1,227.2 263.7,235.5 263.9,237.4 264.8,239.6 265.4,240.2 266.5,240.8 269.9,245.9 271.6,247.5 273.3,248.1 276.7,248 278.7,248.2 286,250.2 292,251.4 299.1,252.3 302.5,252.5 305.9,251.3 308.2,250.1 320.6,240.8 326.3,237.1 330.8,235 334.2,234.4 336.5,234.8 338.8,235.6 341,236.9 343.3,238.7 345.6,241.2 352.4,251.2 353.5,252.4 354.7,253.1 355.8,253.4 358.1,253.7 429.5,253.7"/>
<polyline stroke="#ED7D31" points="259.4,163.2 259.7,163.6 260,164.6 260.5,168 261.4,177.9 263.4,234.3 263.9,239.3 264.5,240.9 265.1,241.7 265.9,242 266.5,241.9 267.6,242.6 268.8,243 269.9,243 271.9,242.7 273,242.9 274.1,243.8 276.7,246.7 278.1,248 279.8,249 281.8,249.7 285.8,250.7 290.3,251.5 301.4,252.7 302.5,252.7 304.8,252.2 308.2,251.1 320.6,244.9 326.3,242.4 330.8,241 334.2,240.6 336.5,240.8 338.8,241.4 341,242.3 343.3,243.5 345.6,245.2 352.4,252 353.5,252.8 354.7,253.3 355.8,253.5 358.1,253.7 429.5,253.7"/>
<polyline stroke="#A5A5A5" points="259.4,162.5 259.7,162.9 260,163.9 260.5,167.3 261.4,177.3 263.4,233.6 263.9,238.6 264.5,240.2 265.1,241 265.9,241.3 266.5,241.2 267.6,241.8 268.8,242 269.6,241.8 271.9,240.3 272.7,240.3 273.3,240.6 274.1,241.5 277.8,247 279.2,248.3 280.7,249.1 284.3,250.2 289.5,251.2 294.6,252 301.4,252.6 304.8,252.3 308.2,251.4 320.6,246.2 326.3,244.2 330.8,243 334.2,242.6 336.5,242.9 338.8,243.3 343.3,245.1 345.6,246.6 352.4,252.3 353.5,252.9 355.8,253.5 358.1,253.7 429.5,253.7"/>
<polyline stroke="#FFC000" points="259.4,161.9 259.7,162.2 260,163.2 260.5,166.6 261.4,176.6 263.1,227.9 263.4,232.9 263.9,237.9 264.5,239.6 265.1,240.3 265.9,240.5 266.5,240.5 267.3,241 268.2,241.2 268.8,241.1 269.6,240.7 271.9,238.6 272.4,238.5 273,238.6 273.6,239.1 274.4,240.3 276.7,244.7 277.8,246.5 279,247.7 280.1,248.5 283.5,249.8 289.2,251.1 295.7,252 302.5,252.6 305.9,252.3 308.2,251.9 326.3,247.1 330.8,246.3 334.2,246 338.8,246.5 343.3,247.8 345.6,248.8 352.4,252.7 353.5,253.2 355.8,253.6 429.5,253.7"/>
<polyline stroke="#4472C4" points="259.4,161.2 259.7,161.5 260,162.5 260.5,165.9 261.4,175.9 263.1,227.2 263.4,232.2 263.9,237.2 264.5,238.9 265.1,239.6 265.9,239.8 266.5,239.8 267.3,240.3 268.2,240.4 268.8,240.3 269.6,239.7 271.9,237 272.4,236.7 273,236.8 273.6,237.3 274.4,238.7 276.7,243.8 277.8,245.9 279,247.3 280.4,248.3 283.8,249.6 289.5,251 295.7,251.9 302.5,252.6 308.2,252.1 327.4,248.3 330.8,247.9 334.2,247.8 338.8,248.1 343.3,249.1 345.6,249.9 352.4,252.9 353.5,253.3 355.8,253.6 429.5,253.7"/>
<polyline stroke="#70AD47" points="259.4,161.2 259.7,161.5 260,162.5 260.5,165.9 261.4,175.9 263.1,227.2 263.4,232.2 263.9,237.2 264.5,238.9 265.1,239.6 265.9,239.9 266.5,239.8 267.3,240.3 268.2,240.5 268.8,240.4 269.6,239.9 271.9,237.6 272.4,237.3 273,237.5 273.6,238 274.4,239.3 276.7,244.1 277.8,246 279,247.3 280.4,248.4 283.8,249.6 289.5,251 295.7,251.9 302.5,252.6 308.2,252 327.4,248 330.8,247.6 334.2,247.4 338.8,247.8 343.3,248.8 345.6,249.7 352.4,252.9 353.5,253.3 355.8,253.6 429.5,253.7"/>
<polyline stroke="#255E91" points="259.4,161.2 259.7,161.5 260,162.5 260.5,165.9 261.4,175.9 263.1,227.2 263.4,232.2 263.9,237.2 264.5,238.9 265.1,239.6 265.9,239.8 266.5,239.7 267.3,240.2 268.2,240.2 268.8,240 269.6,239.1 271.9,235.7 272.4,235.3 273,235.4 273.6,236 274.4,237.5 276.7,243.3 277.8,245.6 279.2,247.5 280.7,248.5 284.1,249.7 289.7,251 295.7,251.9 302.5,252.6 308.2,252.3 326.3,250 334.2,249.5 338.8,249.7 343.3,250.4 345.6,251 352.4,253.1 355.8,253.6 429.5,253.7"/>
<polyline stroke="#9E480E" points="259.4,161.2 259.7,161.5 260,162.5 260.5,165.9 261.4,175.9 263.1,227.2 263.4,232.2 263.9,237.2 264.5,238.9 265.1,239.6 265.9,239.8 266.5,239.7 267.6,240.1 268.2,240 268.8,239.7 269.6,238.6 271.9,234.5 272.4,234 273,234.1 273.6,234.6 274.4,236.3 276.7,242.7 277.8,245.3 279.2,247.4 280.7,248.5 284.1,249.7 289.7,251 295.7,251.9 302.5,252.6 308.2,252.6 327.4,251.4 334.2,251.2 343.3,251.8 352.4,253.4 355.8,253.6 429.5,253.7"/>
<polyline stroke="#636363" points="259.4,161.2 259.7,161.5 260,162.5 260.5,165.9 261.4,175.9 263.1,227.2 263.4,232.2 263.9,237.2 264.5,238.9 265.1,239.6 265.9,239.8 266.5,239.7 267.6,240.2 268.2,240.1 268.8,239.8 269.6,238.9 271.9,235.1 272.4,234.7 273,234.8 273.6,235.3 274.4,236.9 276.7,243 277.8,245.5 279.2,247.4 280.7,248.5 284.3,249.8 290.3,251.1 296.8,252.1 303.6,252.6 310.4,252.7 334.2,251.9 343.3,252.3 352.4,253.4 355.8,253.6 429.5,253.7"/>
<polyline stroke="#997300" points="259.4,161.2 259.7,161.5 260,162.5 260.5,165.9 261.4,175.9 263.1,227.2 263.4,232.2 263.9,237.2 264.5,238.9 265.1,239.6 265.9,239.8 266.5,239.7 267.3,240 268.2,239.9 268.8,239.4 269.6,238.1 271.9,233.3 272.4,232.7 273,232.7 273.6,233.3 274.4,235.1 276.7,242.2 277.8,245 279.2,247.3 280.9,248.6 284.6,249.9 290.3,251.1 296.8,252.1 303.6,252.6 310.4,252.7 334.2,251.9 343.3,252.3 352.4,253.4 355.8,253.6 429.5,253.7"/>
</g>
<path d="M259.4 152.6H429.5V255.4" fill="none" stroke="#1a1a1a" stroke-width="1.3"/>
<path d="M259.4 152.6V255.4H429.5" fill="none" stroke="#8c8c8c" stroke-width="1.7"/>
<text x="244.8" y="257.66" font-size="6.3" textLength="8.9" lengthAdjust="spacingAndGlyphs" class="tl">0.0</text>
<text x="244.8" y="240.52" font-size="6.3" textLength="8.9" lengthAdjust="spacingAndGlyphs" class="tl">0.5</text>
<text x="244.8" y="223.39" font-size="6.3" textLength="8.9" lengthAdjust="spacingAndGlyphs" class="tl">1.0</text>
<text x="244.8" y="206.26" font-size="6.3" textLength="8.9" lengthAdjust="spacingAndGlyphs" class="tl">1.5</text>
<text x="244.8" y="189.12" font-size="6.3" textLength="8.9" lengthAdjust="spacingAndGlyphs" class="tl">2.0</text>
<text x="244.8" y="171.99" font-size="6.3" textLength="8.9" lengthAdjust="spacingAndGlyphs" class="tl">2.5</text>
<text x="244.8" y="154.86" font-size="6.3" textLength="8.9" lengthAdjust="spacingAndGlyphs" class="tl">3.0</text>
<text x="254.5" y="266.55" font-size="6" textLength="9.8" lengthAdjust="spacingAndGlyphs" class="tl">200</text>
<text x="282.85" y="266.55" font-size="6" textLength="9.8" lengthAdjust="spacingAndGlyphs" class="tl">300</text>
<text x="311.2" y="266.55" font-size="6" textLength="9.8" lengthAdjust="spacingAndGlyphs" class="tl">400</text>
<text x="339.55" y="266.55" font-size="6" textLength="9.8" lengthAdjust="spacingAndGlyphs" class="tl">500</text>
<text x="367.9" y="266.55" font-size="6" textLength="9.8" lengthAdjust="spacingAndGlyphs" class="tl">600</text>
<text x="396.25" y="266.55" font-size="6" textLength="9.8" lengthAdjust="spacingAndGlyphs" class="tl">700</text>
<text x="424.6" y="266.55" font-size="6" textLength="9.8" lengthAdjust="spacingAndGlyphs" class="tl">800</text>
<text x="289.1" y="165.7" font-size="9.3" textLength="71.4" lengthAdjust="spacingAndGlyphs" class="tt">Fe/Cu/Ag 5:1:0.1</text>
<text x="315.7" y="278.94" font-size="8.2" textLength="58.2" lengthAdjust="spacingAndGlyphs">Wavelength (nm)</text>
<text transform="translate(240.7 236.5) rotate(-90)" x="0" y="0" font-size="8.3" textLength="70.3" lengthAdjust="spacingAndGlyphs">Absorbance (a.u)</text>
<line x1="383.2" y1="161.8" x2="397.7" y2="161.8" stroke="#5B9BD5" stroke-width="1.2"/>
<text x="398.6" y="164.06" font-size="6.3" textLength="15.5" lengthAdjust="spacingAndGlyphs">0 min</text>
<line x1="383.2" y1="170.7" x2="397.7" y2="170.7" stroke="#ED7D31" stroke-width="1.2"/>
<text x="398.6" y="172.96" font-size="6.3" textLength="15.5" lengthAdjust="spacingAndGlyphs">1 min</text>
<line x1="383.2" y1="179.6" x2="397.7" y2="179.6" stroke="#A5A5A5" stroke-width="1.2"/>
<text x="398.6" y="181.86" font-size="6.3" textLength="15.5" lengthAdjust="spacingAndGlyphs">2 min</text>
<line x1="383.2" y1="188.5" x2="397.7" y2="188.5" stroke="#FFC000" stroke-width="1.2"/>
<text x="398.6" y="190.76" font-size="6.3" textLength="15.5" lengthAdjust="spacingAndGlyphs">3 min</text>
<line x1="383.2" y1="197.4" x2="397.7" y2="197.4" stroke="#4472C4" stroke-width="1.2"/>
<text x="398.6" y="199.66" font-size="6.3" textLength="15.5" lengthAdjust="spacingAndGlyphs">4 min</text>
<line x1="383.2" y1="206.3" x2="397.7" y2="206.3" stroke="#70AD47" stroke-width="1.2"/>
<text x="398.6" y="208.56" font-size="6.3" textLength="15.5" lengthAdjust="spacingAndGlyphs">5 min</text>
<line x1="383.2" y1="215.2" x2="397.7" y2="215.2" stroke="#255E91" stroke-width="1.2"/>
<text x="398.6" y="217.46" font-size="6.3" textLength="18.91" lengthAdjust="spacingAndGlyphs">10 min</text>
<line x1="383.2" y1="224.1" x2="397.7" y2="224.1" stroke="#9E480E" stroke-width="1.2"/>
<text x="398.6" y="226.36" font-size="6.3" textLength="18.91" lengthAdjust="spacingAndGlyphs">15 min</text>
<line x1="383.2" y1="233" x2="397.7" y2="233" stroke="#636363" stroke-width="1.2"/>
<text x="398.6" y="235.26" font-size="6.3" textLength="18.91" lengthAdjust="spacingAndGlyphs">20 min</text>
<line x1="383.2" y1="241.9" x2="397.7" y2="241.9" stroke="#997300" stroke-width="1.2"/>
<text x="398.6" y="244.16" font-size="6.3" textLength="18.91" lengthAdjust="spacingAndGlyphs">30 min</text>
<clipPath id="c4"><rect x="39.7" y="290.4" width="174" height="99"/></clipPath>
<g clip-path="url(#c4)" fill="none" stroke-width="1.5" stroke-linejoin="round">
<polyline stroke="#5B9BD5" points="39.7,307.6 40.6,306.3 40.9,306.2 41.2,305.3 41.4,305.8 42,303.4 42.3,304 42.6,304.1 42.9,305.7 43.5,305.2 43.8,303.6 44.1,303.1 44.3,303.9 44.9,304.4 45.2,304 45.8,305.6 46.1,304.4 46.4,304.3 46.7,302.7 47,302.4 47.2,301.6 47.5,299.3 47.8,299.6 48.4,298.9 49,303.3 49.3,303.4 49.6,304.5 49.9,304.7 50.1,305.6 50.4,304.7 50.7,304.7 51.3,303 51.6,303.1 51.9,302.4 52.5,301.9 53.3,304.3 53.6,306 53.9,305.5 54.2,306.4 54.5,306.7 54.8,306.1 55.1,306.4 55.4,306.1 55.9,304.5 56.2,305.1 56.5,303.3 56.8,304.4 57.1,303.2 57.4,303.7 57.7,306.4 58,306.7 58.3,308 58.6,307.6 58.8,308.2 59.4,307.7 59.7,307 60,308.9 60.6,308.5 60.9,308.5 61.2,309.5 61.7,310.4 62,311.1 62.6,315.2 62.9,319 64.9,358.4 65.2,362.6 66.1,369.9 67.2,376.1 68.1,379 69,380.2 69.9,380.9 73.3,382.9 81.5,385.9 83.8,386.3 86.1,385.9 89.6,384.6 102.3,377.2 108.1,374.3 112.8,372.8 116.3,372.5 120.9,373.6 124.4,375.1 126.7,376.4 130.2,379.4 137.1,386.4 138.3,387.2 139.5,387.7 140.6,388 142.9,388.3 153.4,388.4 213.7,388.4"/>
<polyline stroke="#ED7D31" points="39.7,315.8 40.3,315.1 40.6,316 40.9,314.3 41.2,314.9 42,311.8 42.3,312.9 42.6,312.4 43.2,314 43.5,313.5 44.9,308.6 45.2,309.6 45.5,309.4 45.8,307.4 46.1,307.1 46.7,305.4 47.2,302.6 47.8,301.5 48.1,301.8 48.4,301.2 48.7,304.1 49.3,305.8 49.6,307.3 49.9,306.8 50.1,306.8 50.4,307.3 50.7,306.8 51,307.1 51.3,305.8 51.6,305.6 51.9,303.9 52.2,304.1 52.8,303.4 53.6,307.6 53.9,308 54.2,308 54.8,309.1 55.4,308.6 55.9,306.3 56.2,306 56.8,305.9 57.1,306 57.7,308.2 58.6,310.1 58.8,309.3 59.4,309.2 60,310.3 60.3,311.4 60.6,311 60.9,311.7 61.5,311.5 62,314 62.3,314.5 62.6,317.4 64.9,359.8 65.5,366.6 66.4,372.5 67.5,377.8 68.1,379.2 70.2,381.2 74.2,383.3 81.5,385.9 83.8,386.3 86.1,386.4 90.7,386.4 108.1,385.6 115.1,385.5 125.5,386.1 137.1,387.9 141.8,388.2 154.5,388.4 213.7,388.4"/>
<polyline stroke="#A5A5A5" points="39.7,315.2 40,315.1 40.3,315.6 40.6,314.5 40.9,314.5 41.7,311.5 42.3,311.5 42.6,312.5 43.2,312.6 43.8,311.5 44.3,308.7 44.6,308.6 44.9,307.9 45.2,307.7 45.5,308 46.1,306.9 46.7,303.7 47,303.4 47.8,300.3 48.1,300.9 48.4,300.7 49.3,305.7 49.9,306 50.1,306.5 50.4,306.5 50.7,307.2 51.6,304.1 51.9,304.1 52.2,302.8 52.5,302.6 53.6,307.4 54.5,308.4 55.1,308.5 55.9,306.1 56.2,305.8 56.5,305.9 56.8,304.6 57.1,305.8 57.4,305.9 58.3,309.8 58.6,308.7 59.1,309.5 59.4,308.6 59.7,309.8 60,309.9 60.3,310.7 60.9,309.9 61.2,310.3 61.5,311.2 61.7,311.5 62.6,316.6 64.9,359.4 65.5,366.2 66.4,372.3 67.5,377.7 68.1,379.2 70.2,381.2 74.2,383.3 80.3,385.5 82.6,386.1 89.6,386.7 119.7,387.1 127.9,387.4 138.3,388.1 148.7,388.4 213.7,388.4"/>
<polyline stroke="#FFC000" points="39.7,316.3 40.6,314.3 41.4,313.3 41.7,311.8 42,312.8 42.3,312.8 42.6,312.6 43.2,313.8 43.8,311.1 44.3,309.7 44.9,309.3 45.2,308.1 45.5,308.6 46.1,306.1 46.7,305 47,303 47.8,301.3 48.1,300 49.3,306.5 49.6,306.2 50.1,307.4 50.7,306.4 51,306.9 51.3,305.3 51.6,305 51.9,303.4 52.2,303.1 52.8,304.1 53,305.5 53.3,305.6 53.6,307.5 53.9,307.4 54.2,308 54.8,308.2 55.1,307.8 55.4,308.3 55.7,306.7 55.9,307 56.2,306.2 56.8,305.9 57.1,305.4 58.6,310.2 59.4,308.5 59.7,309 60.3,311.6 60.6,310.5 60.9,311.1 61.2,311 61.5,311.2 62.3,314.2 62.6,317 64.9,359.6 65.5,366.4 66.4,372.4 67.5,377.7 68.1,379.2 70.2,381.2 74.2,383.3 80.3,385.5 82.6,386.1 89.6,386.7 119.7,387.1 127.9,387.4 138.3,388.1 148.7,388.4 213.7,388.4"/>
<polyline stroke="#4472C4" points="39.7,315.2 40,315 40.3,314 40.6,314.6 40.9,314.1 41.2,312.7 41.4,313 41.7,311.1 42,311.1 42.6,312.3 42.9,312 43.2,312 43.5,312.6 44.3,308.9 44.9,308.8 45.5,307.2 45.8,307.6 46.4,304.4 47,302.8 47.2,302.7 47.5,300.7 47.8,299.6 48.1,299.3 49.3,305.6 49.9,305.4 50.4,307 50.7,306.4 51,304.8 51.3,305.2 51.6,303.8 52.2,303.2 52.5,302.3 53.6,307 53.9,307.5 54.2,307.2 54.8,307.1 55.1,308 55.9,305.8 56.2,305.5 56.5,304.5 57.1,305.3 57.4,305.1 57.7,307.3 58.3,308.9 58.6,308.2 58.8,308.5 59.1,308.3 59.4,308.7 59.7,308.7 60,310 60.3,309.7 60.9,310.8 61.2,310.7 61.7,311.2 62,313 62.3,313.7 62.9,320 64.9,359.1 65.5,366 66.4,372.1 67.5,377.6 68.1,379.1 69.3,380.5 70.2,381.2 74.2,383.3 80.3,385.5 82.6,386.1 90.7,386.8 122.1,387.4 138.3,388.1 148.7,388.4 213.7,388.4"/>
<polyline stroke="#70AD47" points="39.7,316.3 40,316.9 40.3,315.8 40.6,316.3 40.9,315.8 41.2,314.5 41.4,314.2 41.7,312.6 42.3,313.3 42.6,313 42.9,314.6 43.2,313.7 43.5,314.2 44.1,310.5 44.3,310.1 44.6,310.4 44.9,310.3 45.2,308.8 45.5,308.9 45.8,308 46.1,308 46.4,306.2 47,304.9 47.5,302.3 48.1,301.7 48.7,303.3 49,305.4 49.6,307.2 49.9,307 50.1,307.8 50.7,307.5 51,306.6 51.6,306 52.2,304.7 52.5,304.6 52.8,303.9 53.6,308.6 54.2,308.2 54.8,309.2 55.1,309 55.4,309 56.5,306.8 56.8,305.7 57.4,307.2 58,310.2 58.3,310.7 58.6,310.7 58.8,310.1 59.1,310.6 59.4,309.2 59.7,310.5 60,310.4 60.3,311.3 60.9,311.8 61.2,311.2 61.5,312.8 61.7,312.8 62.3,315.3 62.6,317.7 64.9,360 65.5,366.8 66.4,372.7 67.5,377.9 68.1,379.3 70.2,381.2 74.2,383.3 80.3,385.5 82.6,386.1 90.7,386.8 122.1,387.4 138.3,388.1 148.7,388.4 213.7,388.4"/>
<polyline stroke="#255E91" points="39.7,315.2 40,315.9 40.6,315.5 41.2,314.4 41.7,311.5 42,312.1 42.6,312.6 42.9,313.3 43.8,312 44.6,308.4 45.2,308.7 45.5,307.5 45.8,308.3 46.4,305.1 47,304.2 47.5,300.8 48.1,300.8 49.3,305.7 49.6,305.6 49.9,307.3 50.1,307.2 50.4,307.6 50.7,306.8 51,306.7 51.6,304.6 52.5,303.7 52.8,302.9 53,305.2 54.2,308.4 54.5,308.4 54.8,308.8 55.4,306.9 55.7,306.8 55.9,305.9 56.2,306.5 56.5,306.4 56.8,305.3 57.1,305.3 57.4,305.8 58,308.6 58.3,309.1 58.6,308.7 58.8,309.5 59.4,308.5 60,310.7 60.6,311.4 60.9,310.4 61.2,310.4 62.3,315 62.6,316.8 64.9,359.5 65.5,366.3 66.4,372.3 67.5,377.7 68.1,379.2 70.2,381.2 74.2,383.3 80.3,385.5 82.6,386.1 90.7,386.8 122.1,387.4 138.3,388.1 148.7,388.4 213.7,388.4"/>
<polyline stroke="#9E480E" points="39.7,317.9 40.3,316.6 40.6,316.8 40.9,316.7 41.2,315.1 41.4,315.2 42,313.9 42.3,313.9 42.6,314.8 42.9,314.7 43.2,315.1 44.1,311.3 44.6,310.3 45.2,310.3 45.8,309 46.7,305.9 47,305.6 47.2,303.7 48.1,302.9 48.4,303.4 49.3,307.7 49.6,308.5 49.9,307.9 50.4,309.3 51,308.2 51.9,304.9 52.2,304.8 52.8,305.3 53.6,309.4 53.9,309 54.2,309 54.8,310.5 55.1,309.6 55.4,309.7 55.7,308.3 55.9,308.2 56.2,307.1 56.5,306.9 56.8,307.6 57.4,306.9 58,310.5 58.3,311.2 58.8,310.2 59.1,310.6 59.4,309.9 60,312.4 60.3,311.9 60.9,313.1 61.2,311.9 61.5,313.7 61.7,313.6 62.3,315.7 62.6,318.5 64.9,360.5 65.5,367.2 66.4,373 67.5,378 68.1,379.3 70.4,381.3 74.5,383.4 80.3,385.5 82.6,386.1 90.7,386.8 122.1,387.4 138.3,388.1 148.7,388.4 213.7,388.4"/>
<polyline stroke="#636363" points="39.7,315.4 40,315.4 40.6,314.8 40.9,313.9 41.2,313.6 41.4,312.2 41.7,312.2 42,311.7 42.3,312.1 42.6,311.4 42.9,312.1 43.2,312.2 43.5,312.1 44.1,310.4 44.3,308.6 44.9,309.1 45.5,308.4 46.1,305.6 46.4,305.6 46.7,303.7 47,303.4 47.5,300.6 48.1,299.8 48.7,303.3 49.6,306.3 49.9,306.4 50.4,307.3 51.6,303.8 51.9,303.7 52.2,302.2 52.5,302.2 52.8,302.6 53.6,306.5 53.9,306.6 54.2,307.7 55.1,307.6 55.7,307.2 56.8,304.6 57.1,304.6 57.7,306.3 58,308.7 58.3,308.7 58.6,309.6 58.8,308.4 59.1,308.4 59.4,307.9 60,309.5 60.9,310.3 61.2,311 61.5,310.9 61.7,311.1 62,313.1 62.3,313.5 62.9,320.2 65.2,363.3 66.4,372.2 67.5,377.6 68.1,379.1 69.3,380.5 70.2,381.2 74.2,383.3 80.3,385.5 82.6,386.1 90.7,386.8 122.1,387.4 138.3,388.1 148.7,388.4 213.7,388.4"/>
<polyline stroke="#997300" points="39.7,314.8 40.3,315.1 40.6,314.2 40.9,314.1 41.7,310.9 42,311 42.6,312.3 42.9,311.9 43.2,312.3 43.8,311 44.1,309 44.3,309.1 44.9,308.4 45.5,306.9 45.8,307.3 46.4,304.3 46.7,304.2 47,303.5 47.8,299.5 48.1,299.5 49,303.9 49.3,304.4 49.6,305.8 49.9,306.2 50.4,305.5 50.7,306.4 51,306 51.9,303 52.2,303 52.8,302.7 53.9,307.3 54.8,306.8 55.1,307.5 55.4,306.3 55.7,306 55.9,305.1 56.2,305.7 56.8,304.1 57.1,304.5 58.3,309.3 58.6,309.1 58.8,308.3 59.1,308.9 59.4,307.8 60.3,309.5 60.6,309.7 60.9,309.4 61.2,309.5 61.5,310.4 61.7,310.7 62.6,316.1 64.9,359 65.5,365.9 66.4,372.1 67.5,377.6 68.1,379.1 69,380.2 70.2,381.2 73.9,383.2 80.3,385.5 82.6,386.1 90.7,386.8 122.1,387.4 138.3,388.1 148.7,388.4 213.7,388.4"/>
</g>
<path d="M39.7 290.9H213.7V389.4" fill="none" stroke="#1a1a1a" stroke-width="1.3"/>
<path d="M39.7 290.9V389.4H213.7" fill="none" stroke="#8c8c8c" stroke-width="1.7"/>
<text x="24.9" y="391.66" font-size="6.3" textLength="9" lengthAdjust="spacingAndGlyphs" class="tl">0.0</text>
<text x="24.9" y="379.34" font-size="6.3" textLength="9" lengthAdjust="spacingAndGlyphs" class="tl">0.5</text>
<text x="24.9" y="367.03" font-size="6.3" textLength="9" lengthAdjust="spacingAndGlyphs" class="tl">1.0</text>
<text x="24.9" y="354.72" font-size="6.3" textLength="9" lengthAdjust="spacingAndGlyphs" class="tl">1.5</text>
<text x="24.9" y="342.41" font-size="6.3" textLength="9" lengthAdjust="spacingAndGlyphs" class="tl">2.0</text>
<text x="24.9" y="330.09" font-size="6.3" textLength="9" lengthAdjust="spacingAndGlyphs" class="tl">2.5</text>
<text x="24.9" y="317.78" font-size="6.3" textLength="9" lengthAdjust="spacingAndGlyphs" class="tl">3.0</text>
<text x="24.9" y="305.47" font-size="6.3" textLength="9" lengthAdjust="spacingAndGlyphs" class="tl">3.5</text>
<text x="24.9" y="293.16" font-size="6.3" textLength="9" lengthAdjust="spacingAndGlyphs" class="tl">4.0</text>
<text x="34.7" y="400.45" font-size="6" textLength="10" lengthAdjust="spacingAndGlyphs" class="tl">200</text>
<text x="63.7" y="400.45" font-size="6" textLength="10" lengthAdjust="spacingAndGlyphs" class="tl">300</text>
<text x="92.7" y="400.45" font-size="6" textLength="10" lengthAdjust="spacingAndGlyphs" class="tl">400</text>
<text x="121.7" y="400.45" font-size="6" textLength="10" lengthAdjust="spacingAndGlyphs" class="tl">500</text>
<text x="150.7" y="400.45" font-size="6" textLength="10" lengthAdjust="spacingAndGlyphs" class="tl">600</text>
<text x="179.7" y="400.45" font-size="6" textLength="10" lengthAdjust="spacingAndGlyphs" class="tl">700</text>
<text x="208.7" y="400.45" font-size="6" textLength="10" lengthAdjust="spacingAndGlyphs" class="tl">800</text>
<text x="81.1" y="306.5" font-size="10" textLength="72.5" lengthAdjust="spacingAndGlyphs" class="tt">Fe/Cu/Ag 5:1:0.2</text>
<text x="97.4" y="411.71" font-size="8.4" textLength="59.1" lengthAdjust="spacingAndGlyphs">Wavelength (nm)</text>
<text transform="translate(18.4 371.8) rotate(-90)" x="0" y="0" font-size="8.2" textLength="66.3" lengthAdjust="spacingAndGlyphs">Absorbance (a.u)</text>
<line x1="166.4" y1="302.4" x2="181.5" y2="302.4" stroke="#5B9BD5" stroke-width="1.2"/>
<text x="182.2" y="304.73" font-size="6.5" textLength="16.3" lengthAdjust="spacingAndGlyphs">0 min</text>
<line x1="166.4" y1="310.92" x2="181.5" y2="310.92" stroke="#ED7D31" stroke-width="1.2"/>
<text x="182.2" y="313.25" font-size="6.5" textLength="16.3" lengthAdjust="spacingAndGlyphs">1 min</text>
<line x1="166.4" y1="319.44" x2="181.5" y2="319.44" stroke="#A5A5A5" stroke-width="1.2"/>
<text x="182.2" y="321.77" font-size="6.5" textLength="16.3" lengthAdjust="spacingAndGlyphs">2 min</text>
<line x1="166.4" y1="327.96" x2="181.5" y2="327.96" stroke="#FFC000" stroke-width="1.2"/>
<text x="182.2" y="330.29" font-size="6.5" textLength="16.3" lengthAdjust="spacingAndGlyphs">3 min</text>
<line x1="166.4" y1="336.48" x2="181.5" y2="336.48" stroke="#4472C4" stroke-width="1.2"/>
<text x="182.2" y="338.81" font-size="6.5" textLength="16.3" lengthAdjust="spacingAndGlyphs">4 min</text>
<line x1="166.4" y1="345" x2="181.5" y2="345" stroke="#70AD47" stroke-width="1.2"/>
<text x="182.2" y="347.33" font-size="6.5" textLength="16.3" lengthAdjust="spacingAndGlyphs">5 min</text>
<line x1="166.4" y1="353.52" x2="181.5" y2="353.52" stroke="#255E91" stroke-width="1.2"/>
<text x="182.2" y="355.85" font-size="6.5" textLength="19.89" lengthAdjust="spacingAndGlyphs">10 min</text>
<line x1="166.4" y1="362.04" x2="181.5" y2="362.04" stroke="#9E480E" stroke-width="1.2"/>
<text x="182.2" y="364.37" font-size="6.5" textLength="19.89" lengthAdjust="spacingAndGlyphs">15 min</text>
<line x1="166.4" y1="370.56" x2="181.5" y2="370.56" stroke="#636363" stroke-width="1.2"/>
<text x="182.2" y="372.89" font-size="6.5" textLength="19.89" lengthAdjust="spacingAndGlyphs">20 min</text>
<line x1="166.4" y1="379.08" x2="181.5" y2="379.08" stroke="#997300" stroke-width="1.2"/>
<text x="182.2" y="381.41" font-size="6.5" textLength="19.89" lengthAdjust="spacingAndGlyphs">30 min</text>
<clipPath id="c5"><rect x="262.8" y="290" width="170.9" height="99.5"/></clipPath>
<g clip-path="url(#c5)" fill="none" stroke-width="1.5" stroke-linejoin="round">
<polyline stroke="#5B9BD5" points="262.8,306.5 263.4,308.1 263.9,308.9 264.8,303.6 265.4,303 265.6,304.2 265.9,303.8 266.2,304.1 266.5,304 267.1,301.8 267.9,303.7 268.2,305.6 268.8,305.9 269.6,303.1 270.2,299.9 270.8,299 271.3,297.4 272.2,303.6 272.5,303.9 273.3,300.6 273.6,300.2 273.9,300.4 274.5,299.7 275,301.2 275.3,303.9 275.6,303.9 276.2,302.8 276.5,301.5 276.8,301.9 277,301.3 277.6,305 277.9,304.7 278.2,304.9 278.8,302.9 279,303 279.6,303.8 280.2,306.9 280.5,305.4 280.7,305.7 281.3,303.1 282.2,307.1 282.5,307.6 282.7,307.8 283,306.1 283.3,307.1 283.6,306.3 283.9,306.1 284.2,307.2 284.4,307.2 284.7,309.1 285,308.6 285.6,311.2 285.9,314.6 287.9,358.3 289,370.6 289.9,375.4 291,379.1 292.7,381.1 295.8,383 303.8,385.9 305,386.2 307.2,386 309.5,385.5 311.8,384.6 323.2,379.2 330,376.3 334.6,374.9 336.9,374.6 339.1,374.5 343.7,375.4 348.2,377.3 351.7,379.5 359.6,386.6 361.9,387.9 364.2,388.3 375.6,388.5 433.7,388.5"/>
<polyline stroke="#ED7D31" points="262.8,314 263.1,315.1 263.4,315.1 263.7,315.9 264.2,314.7 265.1,310.6 265.6,312.2 265.9,311.6 266.2,312.5 266.8,309.9 267.4,309.2 267.6,309.2 267.9,308.9 268.5,310 269.9,303.1 271.1,300 271.3,300.3 271.6,301.6 271.9,304.7 272.5,305.9 273.1,303.4 273.3,302.9 273.6,303.3 273.9,302.5 274.2,302.6 274.5,302.4 275,303.7 275.6,306.3 275.9,306.3 276.2,304.8 277,303.7 277.3,305.9 277.6,306.3 277.9,307.4 278.5,305.4 278.8,305.8 279.3,304.6 279.9,308 280.2,308 280.7,307.2 281,306.4 281.6,306.8 281.9,308.4 282.7,310 283,308.9 283.3,309.2 283.9,308.5 284.2,309.4 284.4,309.5 285.6,313.3 285.9,316.6 287.9,359.6 288.4,366.7 289.3,373.2 290.1,377 291,379.2 293,381.3 296.4,383.3 303.8,385.9 305,386.2 308.4,386.4 312.9,386.4 330,385.3 338,385.1 343.7,385.4 348.2,385.8 351.7,386.3 359.6,387.9 364.2,388.3 375.6,388.5 433.7,388.5"/>
<polyline stroke="#A5A5A5" points="262.8,314.4 263.1,314.1 263.4,315.6 263.9,314.5 265.1,309.9 265.4,309.9 265.6,311.3 265.9,310.6 266.5,310.9 266.8,309.1 267.1,308.4 267.6,307.6 267.9,309 268.2,308.3 268.5,308.2 268.8,308.7 269.1,306.3 269.4,305.9 269.6,303.5 269.9,303.3 270.2,301.1 270.5,300.9 270.8,299.2 271.1,300 271.3,299.7 271.6,300.2 271.9,303.4 272.2,305.2 272.5,305.6 273.1,303.6 273.3,303.4 273.6,301.6 273.9,301.5 274.2,301 274.5,301.2 275.6,305.8 276.5,303.1 276.8,303.4 277.3,304.6 277.6,306.6 277.9,306.4 278.2,306.6 279,303.9 279.9,307.5 280.2,307.6 280.5,306.7 280.7,306.6 281.3,305.5 282.5,308.8 282.7,309.2 283.6,307.8 283.9,308.1 284.2,307.8 284.4,309.3 285,310.5 285.6,312.6 285.9,315.9 287.9,359.1 288.4,366.4 289.3,373 290.1,376.9 291,379.2 291.9,380.3 293,381.3 296.4,383.3 302.7,385.6 305,386.2 311.8,386.7 343.7,387.2 361.9,388.3 369.9,388.5 433.7,388.5"/>
<polyline stroke="#FFC000" points="262.8,314 263.4,315.5 263.9,314.8 264.2,315.2 264.8,311.5 265.1,311.2 265.4,311.4 265.6,310.8 265.9,312.2 266.2,311.5 266.5,311.8 267.4,308 267.6,307.8 267.9,309.1 268.5,308.7 268.8,309 269.6,303.8 269.9,303.8 270.2,301.9 270.5,301.7 270.8,300.8 271.1,298.9 271.3,300.1 271.6,300.4 272.2,305.3 273.1,304.1 273.3,303.2 273.6,303.1 273.9,301.8 274.5,301.5 275.3,305.4 275.9,304.8 276.2,303.6 276.8,302.8 277,303.3 277.3,305.6 277.6,306.1 277.9,307.5 278.5,306.2 278.8,304.1 279,305.1 279.3,304.3 279.9,307.6 280.2,307.6 280.5,308.4 281.3,306.2 281.6,306.9 281.9,307 282.2,309.3 282.5,309.2 282.7,309.5 283,309.2 283.3,308.4 283.6,308.5 283.9,307.6 284.2,309.1 285,311 285.6,313 285.9,316.3 287.9,359.4 288.4,366.6 289.3,373.1 290.1,377 291,379.2 293,381.3 296.4,383.3 302.7,385.6 305,386.2 311.8,386.7 343.7,387.2 361.9,388.3 369.9,388.5 433.7,388.5"/>
<polyline stroke="#4472C4" points="262.8,313.5 263.4,315.1 263.7,314.2 263.9,315.2 265.1,309.1 265.4,309.5 265.9,311.4 266.5,310.5 266.8,308.6 267.4,307 267.6,307.1 267.9,308 268.5,308 268.8,308.5 269.6,303.1 269.9,302.8 270.5,300.9 271.1,298.4 271.3,298.9 272.2,305.5 273.1,302.4 273.3,303 273.6,302.1 273.9,302.1 274.2,300.6 274.5,300.6 275,302.3 275.3,304.2 275.9,304.5 276.2,303.8 276.5,302 276.8,301.9 277.6,305.3 278.2,306.3 279,303.5 279.3,303.9 279.6,306 280.2,307.9 280.7,305.7 281,305.9 281.3,304.1 281.9,307.3 282.5,309.1 283,307.3 283.3,308 283.9,307.4 284.2,307.7 285,311 285.3,311.2 285.6,312.2 285.9,315.6 287.9,358.9 288.4,366.2 289.3,372.9 290.1,376.8 291,379.1 291.9,380.3 293,381.3 296.4,383.3 302.7,385.6 305,386.2 314.1,386.9 344.8,387.5 361.9,388.3 369.9,388.5 433.7,388.5"/>
<polyline stroke="#70AD47" points="262.8,314.8 263.1,315.8 263.4,315.6 263.7,316.1 263.9,315.9 264.5,313.6 264.8,311.5 265.1,311.6 265.4,312.2 265.6,311.3 265.9,313 266.2,311.8 266.5,312 266.8,311.3 267.4,308.5 267.6,309.2 267.9,309.2 268.2,310.5 268.5,309.6 268.8,309.7 269.6,304.9 270.5,302.6 271.1,299.9 271.6,301.8 271.9,305.5 272.2,305.6 273.1,304.5 273.3,304.5 273.9,302.7 274.5,301.9 274.8,302.7 275.3,306.1 275.6,306.3 275.9,306.2 276.5,303.7 276.8,303.9 277,303.7 277.6,307.7 278.2,307 278.5,306.2 278.8,306.2 279,304.5 280.2,309.5 280.5,309.2 281,307 281.3,306.9 281.9,307.9 282.2,309.2 282.7,310.3 283,309.1 283.3,308.9 283.6,309.4 283.9,308.5 284.4,311 284.7,311.8 285,311.3 285.6,313.7 285.9,317 287.9,359.8 288.4,366.9 289.3,373.4 290.1,377.1 291,379.2 293,381.3 296.4,383.3 302.7,385.6 305,386.2 314.1,386.9 344.8,387.5 361.9,388.3 369.9,388.5 433.7,388.5"/>
<polyline stroke="#255E91" points="262.8,314.5 263.7,315.5 263.9,315.1 264.2,315.2 264.8,311 265.1,310.2 265.4,310.4 265.6,311.3 266.2,310.9 266.5,311 267.1,308 267.6,308.4 267.9,307.8 268.2,309.2 268.5,309.2 268.8,308.7 269.6,303.6 269.9,303.6 270.5,300.7 270.8,300.3 271.1,299.2 271.3,299.2 271.9,304.4 272.2,305.5 272.8,304.9 273.1,303.9 273.3,303.7 273.6,302.9 274.5,301.6 274.8,301.8 275.6,305.7 276.5,302.7 277.3,305.5 277.6,306 277.9,306.1 278.2,306.8 278.5,305 279,303.6 279.3,304.2 279.6,306.6 279.9,306.9 280.2,308.4 280.5,308.1 281,305.8 281.6,306.3 282.2,309.1 282.5,309.7 282.7,309.6 283.3,308.3 283.9,307.9 285.6,312.8 285.9,316.1 287.9,359.2 288.4,366.5 289.3,373 290.1,376.9 291,379.2 291.9,380.3 293,381.3 296.4,383.3 302.7,385.6 305,386.2 314.1,386.9 344.8,387.5 361.9,388.3 369.9,388.5 433.7,388.5"/>
<polyline stroke="#9E480E" points="262.8,316.2 263.4,317.4 263.7,316.7 263.9,317.5 265.1,311.8 265.6,312.5 265.9,313.5 266.8,311.6 267.4,309.4 267.6,310.3 267.9,310 268.2,310 268.5,311 269.1,309.2 269.4,306.6 269.9,305 270.8,301.1 271.1,301.3 271.3,300.8 272.2,307.1 272.5,307.4 272.8,305.5 273.1,305.7 273.6,303.9 274.2,303.7 274.8,303.2 275,306 275.3,305.9 275.6,306.9 275.9,306.7 276.8,304.1 277,304.5 277.6,308 277.9,308.5 278.2,307.3 278.8,306.9 279,305.7 280.2,309.4 280.5,309.1 281.3,306.4 281.6,307.2 281.9,309.3 282.5,311 282.7,309.9 283.3,309.9 283.6,310 283.9,309.3 284.4,312 284.7,311.6 285,313.4 285.3,313.4 285.6,314.4 285.9,317.6 287.9,360.2 288.4,367.3 289.3,373.6 290.1,377.2 291,379.2 293,381.3 294.7,382.4 296.7,383.4 302.7,385.6 305,386.2 314.1,386.9 344.8,387.5 361.9,388.3 369.9,388.5 433.7,388.5"/>
<polyline stroke="#636363" points="262.8,314.4 263.1,315.1 263.4,314.6 263.9,315 265.1,309.3 265.4,310.8 265.9,311.4 266.2,310.5 266.5,310.8 267.1,308.3 267.6,307.3 268.2,308.9 268.5,309.2 269.6,304.2 269.9,302 270.2,301.6 270.5,300 271.1,298.9 271.6,299.8 272.2,305.7 272.5,305.4 273.1,302.9 273.3,303 273.6,301.4 273.9,302.3 274.2,301.3 274.5,301.4 275,302.9 275.3,304.5 275.6,304.6 275.9,304.3 276.2,304.5 276.8,302.5 277.3,304.3 277.6,306.4 277.9,306.9 279,303.9 279.3,304.2 280.2,307.5 280.5,307.2 280.7,305.7 281.3,304.4 281.6,305 282.2,308.6 282.5,308.5 282.7,308.9 283.3,307.9 283.6,308.2 283.9,307.9 284.4,309.6 285,310.2 285.6,312.4 285.9,315.8 287.9,359 288.4,366.3 289.3,372.9 290.1,376.8 291,379.1 291.9,380.3 293,381.3 296.4,383.3 302.7,385.6 305,386.2 314.1,386.9 344.8,387.5 361.9,388.3 369.9,388.5 433.7,388.5"/>
<polyline stroke="#997300" points="262.8,313.1 263.1,314.3 263.4,314.1 263.7,314.7 263.9,314.8 265.1,308.9 265.4,309.7 266.2,310.9 266.8,309.7 267.4,307.1 267.6,307.4 267.9,308.5 268.5,308.7 270.2,301.8 270.8,298.6 271.1,298.1 271.6,299.7 271.9,303.6 272.5,305 273.3,301.5 273.6,301.7 273.9,300.8 274.2,301.5 274.5,300.8 275,303.5 275.3,303.4 275.6,305.4 276.5,303 276.8,301.7 277.6,305.2 277.9,305.4 278.2,306.2 278.8,303.3 279,303.3 279.3,304 279.9,307.1 280.2,307.6 280.7,306.2 281,304.6 281.9,306.1 282.5,309 282.7,307.7 283,308.4 283.3,307.5 283.6,307.3 283.9,307.4 284.2,308.4 284.4,308.2 285.6,312.1 285.9,315.4 287.9,358.8 288.4,366.1 289.3,372.8 290.1,376.8 291,379.1 291.9,380.3 293,381.3 296.4,383.3 302.7,385.6 305,386.2 314.1,386.9 344.8,387.5 361.9,388.3 369.9,388.5 433.7,388.5"/>
</g>
<path d="M262.8 290.5H433.7V389.5" fill="none" stroke="#1a1a1a" stroke-width="1.3"/>
<path d="M262.8 290.5V389.5H433.7" fill="none" stroke="#8c8c8c" stroke-width="1.7"/>
<text x="248.2" y="391.68" font-size="6.1" textLength="8.4" lengthAdjust="spacingAndGlyphs" class="tl">0.0</text>
<text x="248.2" y="379.31" font-size="6.1" textLength="8.4" lengthAdjust="spacingAndGlyphs" class="tl">0.5</text>
<text x="248.2" y="366.93" font-size="6.1" textLength="8.4" lengthAdjust="spacingAndGlyphs" class="tl">1.0</text>
<text x="248.2" y="354.56" font-size="6.1" textLength="8.4" lengthAdjust="spacingAndGlyphs" class="tl">1.5</text>
<text x="248.2" y="342.18" font-size="6.1" textLength="8.4" lengthAdjust="spacingAndGlyphs" class="tl">2.0</text>
<text x="248.2" y="329.81" font-size="6.1" textLength="8.4" lengthAdjust="spacingAndGlyphs" class="tl">2.5</text>
<text x="248.2" y="317.43" font-size="6.1" textLength="8.4" lengthAdjust="spacingAndGlyphs" class="tl">3.0</text>
<text x="248.2" y="305.06" font-size="6.1" textLength="8.4" lengthAdjust="spacingAndGlyphs" class="tl">3.5</text>
<text x="248.2" y="292.68" font-size="6.1" textLength="8.4" lengthAdjust="spacingAndGlyphs" class="tl">4.0</text>
<text x="257.8" y="400.65" font-size="6" textLength="10" lengthAdjust="spacingAndGlyphs" class="tl">200</text>
<text x="286.28" y="400.65" font-size="6" textLength="10" lengthAdjust="spacingAndGlyphs" class="tl">300</text>
<text x="314.77" y="400.65" font-size="6" textLength="10" lengthAdjust="spacingAndGlyphs" class="tl">400</text>
<text x="343.25" y="400.65" font-size="6" textLength="10" lengthAdjust="spacingAndGlyphs" class="tl">500</text>
<text x="371.73" y="400.65" font-size="6" textLength="10" lengthAdjust="spacingAndGlyphs" class="tl">600</text>
<text x="400.22" y="400.65" font-size="6" textLength="10" lengthAdjust="spacingAndGlyphs" class="tl">700</text>
<text x="428.7" y="400.65" font-size="6" textLength="10" lengthAdjust="spacingAndGlyphs" class="tl">800</text>
<text x="311.7" y="306.1" font-size="10" textLength="72.5" lengthAdjust="spacingAndGlyphs" class="tt">Fe/Cu/Ag 5:1:0.3</text>
<text x="319" y="412.81" font-size="8.4" textLength="58.2" lengthAdjust="spacingAndGlyphs">Wavelength (nm)</text>
<text transform="translate(245 371) rotate(-90)" x="0" y="0" font-size="8.2" textLength="67.1" lengthAdjust="spacingAndGlyphs">Absorbance (a.u)</text>
<line x1="390" y1="303.1" x2="404.5" y2="303.1" stroke="#5B9BD5" stroke-width="1.2"/>
<text x="405.5" y="305.43" font-size="6.5" textLength="16.3" lengthAdjust="spacingAndGlyphs">0 min</text>
<line x1="390" y1="311.59" x2="404.5" y2="311.59" stroke="#ED7D31" stroke-width="1.2"/>
<text x="405.5" y="313.92" font-size="6.5" textLength="16.3" lengthAdjust="spacingAndGlyphs">1 min</text>
<line x1="390" y1="320.08" x2="404.5" y2="320.08" stroke="#A5A5A5" stroke-width="1.2"/>
<text x="405.5" y="322.41" font-size="6.5" textLength="16.3" lengthAdjust="spacingAndGlyphs">2 min</text>
<line x1="390" y1="328.57" x2="404.5" y2="328.57" stroke="#FFC000" stroke-width="1.2"/>
<text x="405.5" y="330.9" font-size="6.5" textLength="16.3" lengthAdjust="spacingAndGlyphs">3 min</text>
<line x1="390" y1="337.06" x2="404.5" y2="337.06" stroke="#4472C4" stroke-width="1.2"/>
<text x="405.5" y="339.39" font-size="6.5" textLength="16.3" lengthAdjust="spacingAndGlyphs">4 min</text>
<line x1="390" y1="345.55" x2="404.5" y2="345.55" stroke="#70AD47" stroke-width="1.2"/>
<text x="405.5" y="347.88" font-size="6.5" textLength="16.3" lengthAdjust="spacingAndGlyphs">5 min</text>
<line x1="390" y1="354.04" x2="404.5" y2="354.04" stroke="#255E91" stroke-width="1.2"/>
<text x="405.5" y="356.37" font-size="6.5" textLength="19.89" lengthAdjust="spacingAndGlyphs">10 min</text>
<line x1="390" y1="362.53" x2="404.5" y2="362.53" stroke="#9E480E" stroke-width="1.2"/>
<text x="405.5" y="364.86" font-size="6.5" textLength="19.89" lengthAdjust="spacingAndGlyphs">15 min</text>
<line x1="390" y1="371.02" x2="404.5" y2="371.02" stroke="#636363" stroke-width="1.2"/>
<text x="405.5" y="373.35" font-size="6.5" textLength="19.89" lengthAdjust="spacingAndGlyphs">20 min</text>
<line x1="390" y1="379.51" x2="404.5" y2="379.51" stroke="#997300" stroke-width="1.2"/>
<text x="405.5" y="381.84" font-size="6.5" textLength="19.89" lengthAdjust="spacingAndGlyphs">30 min</text>
<clipPath id="c6"><rect x="37.45" y="422.1" width="175.35" height="99.2"/></clipPath>
<g clip-path="url(#c6)" fill="none" stroke-width="1.5" stroke-linejoin="round">
<polyline stroke="#5B9BD5" points="37.5,439.8 37.7,440.7 38,440.4 38.3,441.3 39.2,439.5 39.5,437.6 39.8,437.7 40.1,437.3 40.7,438.7 41,438.4 41.2,437.5 41.5,437.8 42.4,436.7 43,438.2 43.3,437.6 43.6,438.9 43.9,437.4 44.2,437.1 44.8,435.3 45.3,431.8 45.6,431.7 45.9,430.3 46.2,429.9 47.4,436.5 47.7,436.9 48,436.7 48.6,437.8 48.8,437.3 49.4,437 49.7,435.8 50,435.5 50.3,435.7 50.6,434.6 51.2,433.5 51.8,436.5 52.1,436.9 52.4,438.8 52.9,437.4 53.2,437.9 53.5,437.1 53.8,437.2 54.1,435.8 54.4,435.4 55,437 55.3,439.1 56.4,440 57,439.1 57.3,439.4 57.6,438.7 57.9,439.4 58.2,438.9 59.4,442.7 60,443 60.8,449.4 63.5,490.4 64.3,499.6 66.1,510.9 66.4,511.7 67,512.4 68.7,513.5 72.5,515 78.4,516.6 80.7,516.4 83,515.8 85.4,514.9 88.9,513.1 99.4,506.8 106.4,503.2 111.1,501.5 113.4,501.1 115.8,501 120.4,502.2 124,503.9 126.3,505.5 127.5,506.4 129.8,508.8 136.8,517.3 139.2,519.2 141.5,520 143.8,520.2 152,520.3 212.8,520.3"/>
<polyline stroke="#ED7D31" points="37.5,446.7 37.7,447.9 38.3,448.5 38.6,447.5 38.9,447.9 39.8,443.6 40.1,445 40.4,444.9 40.7,445.2 41.2,444.6 41.5,443.9 41.8,443.9 43,441.4 43.3,442.2 45.3,435.2 45.6,433.5 46.2,432.2 46.5,432.4 47.1,436.7 48,439.9 48.3,439 48.6,439.3 49.1,438.9 49.4,439.1 49.7,438.6 50,438.6 50.3,437.3 50.6,437.6 51.2,436.7 52.4,441.2 52.9,440.6 53.2,439.8 53.5,440 53.8,438.2 54.1,438.1 54.7,438.9 55.6,442.3 55.9,441.4 56.2,441.3 56.4,442.2 56.7,442.2 57,442.6 57.6,441.4 57.9,441.3 58.2,440.9 58.8,444.1 59.1,443.5 59.7,445.4 60,445.4 60.8,451.5 63.5,491.6 64.3,500.4 65.5,508.3 66.1,511.1 66.4,511.8 67.8,513.1 70.5,514.3 73.7,515.4 78.4,516.6 83,517.2 91.2,517.4 111.1,516.7 118.1,516.8 126.3,517.6 136.8,519.6 141.5,520.1 153.2,520.3 212.8,520.3"/>
<polyline stroke="#A5A5A5" points="37.5,445.9 37.7,445.9 38.6,447.5 39.2,445.8 39.5,443.6 40.1,443.2 40.7,444.9 42.1,441.7 42.4,441.5 42.7,442 43,441.3 43.6,441 45.6,432 45.9,431.2 46.2,430.9 47.1,436.4 47.7,438.4 48.3,438.3 48.8,438.9 49.4,437.7 49.7,438.3 50.3,436.2 50.9,435.4 51.2,435.6 51.8,437.2 52.1,439.3 52.4,439.3 52.6,438.9 52.9,439.5 53.2,439.1 53.5,437.9 53.8,437.7 54.1,438 54.4,437.8 54.7,438.3 55,438.4 55.6,441.5 55.9,440.7 56.2,440.6 56.7,441.7 57,441.2 57.3,441.4 57.6,441.2 57.9,439.5 58.8,442 59.1,443.5 59.4,443.3 59.7,443.7 60.5,448.1 61.1,454.9 63.5,491.2 64.3,500.1 65.5,508.1 66.1,511 66.4,511.7 67.8,513.1 70.2,514.2 73.7,515.4 79.5,516.8 87.7,517.9 95.9,518.4 124,519.2 138,520 145,520.2 212.8,520.3"/>
<polyline stroke="#FFC000" points="37.5,446.6 37.7,447.4 38,447.2 38.3,447.9 38.9,447.5 39.2,445.1 39.8,443.9 40.4,443.8 40.7,445 41,444.4 41.2,444.7 41.8,443.2 42.1,443.3 42.4,442.3 43,442.5 43.3,440.9 43.6,441.2 44.2,438.3 44.8,436.8 45.6,432.6 45.9,432.9 46.2,431.9 47.4,437.6 47.7,438.2 48.3,438.6 48.6,439.5 49.1,438.9 49.7,437.8 50,437.7 50.6,436.6 50.9,435.5 51.5,436 52.1,439.8 52.4,440 52.6,439.3 52.9,439.2 53.2,439.8 53.8,438.5 54.1,438.5 54.4,438 55,439.1 55.9,442.1 56.2,441.4 56.4,441.6 56.7,442.4 57,441.1 57.3,440.5 57.6,441.2 57.9,439.9 58.5,442 58.8,442.3 59.4,444.7 59.7,444.7 60,445 60.5,448.5 61.1,455.2 63.5,491.4 64.3,500.3 65.5,508.2 66.1,511.1 66.4,511.7 67.8,513.1 70.5,514.3 73.7,515.4 79.5,516.8 87.7,517.9 97.1,518.5 124,519.2 138,520 145,520.2 212.8,520.3"/>
<polyline stroke="#4472C4" points="37.5,446 37.7,446.5 38,446.3 38.3,447.5 39.2,445.6 39.8,442.9 40.1,443.3 40.4,444.3 40.7,443.4 41,443.9 41.2,443.3 41.5,443.9 41.8,442.8 42.1,442.5 42.4,441.1 42.7,441.6 43,441.5 43.6,439.3 44.5,437.4 44.8,435.2 45.3,433.1 45.6,432.9 46.2,431 47.4,436.7 47.7,437.1 48,438.7 48.3,438 48.6,439.3 48.8,438 49.1,438.3 49.4,438 50,436.3 50.3,436.8 50.6,436.4 50.9,435.3 51.2,435.6 51.5,436.4 52.1,439.4 52.4,439.8 52.9,439.2 53.2,438.2 53.5,438.5 53.8,437.7 54.1,437.6 54.4,437.1 55.3,440.6 55.6,440.3 56.2,441.4 56.7,440.5 57,441.5 57.3,440 57.6,440.2 58.2,439.8 58.8,442.3 59.1,442.8 59.4,442.8 59.7,444 60,443.8 60.8,450.4 63.5,491 64.3,500 65.5,508 66.4,511.7 67.8,513.1 70.2,514.2 76,516 80.7,517 90.1,518.2 100.6,518.8 124,519.4 139.2,520.1 147.3,520.3 212.8,520.3"/>
<polyline stroke="#70AD47" points="37.5,446.8 37.7,447.9 38.3,448.9 38.6,448.8 38.9,448.3 39.2,446.1 39.8,445.1 40.1,445.4 40.4,444.7 41.2,445.8 42.1,443.4 42.4,443.5 42.7,442.8 43,442.8 43.3,441.4 44.2,439.8 44.5,437.7 44.8,437.6 45.6,433.9 45.9,433 46.2,432.7 46.8,435.2 47.1,437.9 47.7,439.6 48,439.7 48.3,440.7 48.6,440.8 49.1,440.1 49.4,439.2 50.9,436.3 51.8,438 52.1,440.7 52.6,440.5 52.9,441.1 53.2,439.5 53.5,439 53.8,439 54.4,437.9 55.3,441.4 56.2,442 56.4,442.4 56.7,442 57,442.1 57.3,441.7 58.2,442.3 58.8,444.3 59.1,444.1 59.4,444.9 60,445.6 60.2,446.8 60.8,451.9 63.5,491.7 64,498 64.9,504.7 65.8,509.9 66.4,511.8 67.8,513.1 70.5,514.3 77.2,516.3 81.9,517.2 90.1,518.2 100.6,518.8 124,519.4 139.2,520.1 147.3,520.3 212.8,520.3"/>
<polyline stroke="#255E91" points="37.5,446.1 37.7,447.6 38,446.7 38.6,447.3 39.2,445.3 39.5,444.9 39.8,443.3 40.4,444.9 40.7,445 41,444.5 41.2,445 41.8,442.3 42.1,442.4 42.7,441.8 43.6,440.3 43.9,439.3 44.2,439.1 45.6,432.7 45.9,432.8 46.2,432.4 46.8,434 47.7,438.4 48.8,439.6 49.1,438.2 49.4,438.8 49.7,437.2 50,436.8 50.3,437.7 50.9,435.5 51.2,435 52.1,439.7 52.4,439.3 52.6,440.2 52.9,439.4 53.2,439.6 53.8,437.6 54.1,438.3 54.4,437 55,438.6 55.6,441.6 55.9,440.8 56.4,442.3 56.7,442.4 57.3,441.1 57.6,440.9 58.2,441.1 58.5,442 58.8,442.3 59.1,444.4 59.4,443.7 59.7,443.9 60,445.4 60.2,445.5 60.8,451 63.5,491.3 64,497.6 64.9,504.4 65.8,509.8 66.4,511.7 67.8,513.1 70.2,514.2 76,516 80.7,517 90.1,518.2 100.6,518.8 124,519.4 139.2,520.1 147.3,520.3 212.8,520.3"/>
<polyline stroke="#9E480E" points="37.5,447.5 37.7,447.9 38,449.2 38.6,449.2 38.9,447.7 39.8,445.4 40.7,446.9 41,446 41.2,446.5 41.5,444.9 41.8,445.1 42.4,443.7 42.7,443.9 43,443.4 43.3,442.2 44.2,440 45.3,435.3 45.6,435.2 45.9,433.4 46.5,433.8 47.4,439.8 47.7,439.1 48,440.9 48.3,440.8 48.6,441.1 48.8,441 49.4,439.3 49.7,439.9 50,438.9 50.3,438.9 50.6,438 50.9,437.8 51.2,437.9 51.5,438.6 52.4,441.6 52.6,441.9 53.2,440 53.5,440.4 53.8,440.4 54.1,439.8 54.4,439.7 54.7,439.9 55,441.5 55.6,443.2 56.2,442.6 56.7,443.5 57.3,442.7 57.9,442.3 58.5,443.8 58.8,443.8 59.1,445.9 59.4,445.7 60,446 60.8,452.6 63.5,492.1 64.6,503 65.8,510 66.4,511.8 67.8,513.1 70.5,514.3 77.2,516.3 81.9,517.2 90.1,518.2 100.6,518.8 124,519.4 139.2,520.1 147.3,520.3 212.8,520.3"/>
<polyline stroke="#636363" points="37.5,446.1 37.7,446.8 38.3,447 38.9,445.9 39.2,444.6 39.5,444.6 40.1,443.1 40.4,443.3 40.7,444.3 41,444.4 41.2,444.9 41.8,442 42.7,440.7 43,441.5 43.3,441.4 43.6,440.6 44.5,436.4 45.9,431.6 46.2,432.1 46.5,431.8 46.8,434.3 48,438.8 48.3,439 48.8,438.4 49.1,439 49.4,438.6 50,437 50.6,436.4 50.9,435.4 51.2,436.1 51.5,436.3 52.4,439.4 52.6,438.9 52.9,439.2 53.2,439.1 53.5,438.7 53.8,437.2 54.1,437 54.4,437.4 55.6,440.9 55.9,441.4 56.4,440.6 56.7,441.7 57,441.8 57.9,439.8 58.2,440.9 58.5,441 59.4,444.1 59.7,443.3 60,444.8 60.2,445.3 60.8,450.6 63.5,491.1 64,497.5 64.9,504.3 65.8,509.7 66.4,511.7 67.8,513.1 70.2,514.2 76,516 80.7,517 90.1,518.2 100.6,518.8 124,519.4 139.2,520.1 147.3,520.3 212.8,520.3"/>
<polyline stroke="#997300" points="37.5,445.8 37.7,446.5 38,446.1 38.3,446.9 38.6,445.9 38.9,446 39.8,443 40.1,442.8 40.4,442.8 40.7,444.5 41.2,444.2 41.5,442.4 41.8,442.8 42.4,442 43,440.2 43.6,439.4 44.2,437.1 44.5,437 44.8,436.1 45,433.8 45.3,432.8 45.6,432.8 45.9,431.1 46.2,431.2 46.5,432 47.4,437.5 48,438.1 48.3,437.6 48.6,439 48.8,437.6 49.1,438.5 49.7,436.7 50,436.2 50.6,436.3 50.9,435.2 51.5,435 52.1,438.7 52.4,438.6 52.6,439.8 53.2,437.9 53.5,437.6 53.8,438.2 54.7,436.6 55,438.8 55.6,439.8 55.9,440.9 56.2,441.1 56.4,440.2 57,441.1 57.3,440 57.6,440.2 57.9,440 58.2,440.8 58.5,440.6 59.1,442.7 59.4,442.6 59.7,444.3 60,444.5 60.2,445.4 60.8,450.3 63.5,490.9 64.3,499.9 65.5,508 66.4,511.7 67.8,513.1 70.2,514.2 76,516 80.7,517 90.1,518.2 100.6,518.8 124,519.4 139.2,520.1 147.3,520.3 212.8,520.3"/>
</g>
<path d="M37.45 422.6H212.8V521.3" fill="none" stroke="#1a1a1a" stroke-width="1.3"/>
<path d="M37.45 422.6V521.3H212.8" fill="none" stroke="#8c8c8c" stroke-width="1.7"/>
<text x="22.7" y="523.56" font-size="6.3" textLength="8.9" lengthAdjust="spacingAndGlyphs" class="tl">0.0</text>
<text x="22.7" y="511.22" font-size="6.3" textLength="8.9" lengthAdjust="spacingAndGlyphs" class="tl">0.5</text>
<text x="22.7" y="498.88" font-size="6.3" textLength="8.9" lengthAdjust="spacingAndGlyphs" class="tl">1.0</text>
<text x="22.7" y="486.54" font-size="6.3" textLength="8.9" lengthAdjust="spacingAndGlyphs" class="tl">1.5</text>
<text x="22.7" y="474.21" font-size="6.3" textLength="8.9" lengthAdjust="spacingAndGlyphs" class="tl">2.0</text>
<text x="22.7" y="461.87" font-size="6.3" textLength="8.9" lengthAdjust="spacingAndGlyphs" class="tl">2.5</text>
<text x="22.7" y="449.53" font-size="6.3" textLength="8.9" lengthAdjust="spacingAndGlyphs" class="tl">3.0</text>
<text x="22.7" y="437.19" font-size="6.3" textLength="8.9" lengthAdjust="spacingAndGlyphs" class="tl">3.5</text>
<text x="22.7" y="424.86" font-size="6.3" textLength="8.9" lengthAdjust="spacingAndGlyphs" class="tl">4.0</text>
<text x="32.45" y="531.85" font-size="6" textLength="10" lengthAdjust="spacingAndGlyphs" class="tl">200</text>
<text x="61.68" y="531.85" font-size="6" textLength="10" lengthAdjust="spacingAndGlyphs" class="tl">300</text>
<text x="90.9" y="531.85" font-size="6" textLength="10" lengthAdjust="spacingAndGlyphs" class="tl">400</text>
<text x="120.13" y="531.85" font-size="6" textLength="10" lengthAdjust="spacingAndGlyphs" class="tl">500</text>
<text x="149.35" y="531.85" font-size="6" textLength="10" lengthAdjust="spacingAndGlyphs" class="tl">600</text>
<text x="178.58" y="531.85" font-size="6" textLength="10" lengthAdjust="spacingAndGlyphs" class="tl">700</text>
<text x="207.8" y="531.85" font-size="6" textLength="10" lengthAdjust="spacingAndGlyphs" class="tl">800</text>
<text x="83.1" y="437.7" font-size="10" textLength="73.9" lengthAdjust="spacingAndGlyphs" class="tt">Fe/Cu/Ag 5:1:0.4</text>
<text x="95.1" y="544.01" font-size="8.4" textLength="59.9" lengthAdjust="spacingAndGlyphs">Wavelength (nm)</text>
<text transform="translate(12.7 493.7) rotate(-90)" x="0" y="0" font-size="8.2" textLength="62.2" lengthAdjust="spacingAndGlyphs">Absorbance (a.u)</text>
<line x1="167.8" y1="431.8" x2="182.7" y2="431.8" stroke="#5B9BD5" stroke-width="1.2"/>
<text x="183.6" y="434.13" font-size="6.5" textLength="16.3" lengthAdjust="spacingAndGlyphs">0 min</text>
<line x1="167.8" y1="440.31" x2="182.7" y2="440.31" stroke="#ED7D31" stroke-width="1.2"/>
<text x="183.6" y="442.64" font-size="6.5" textLength="16.3" lengthAdjust="spacingAndGlyphs">1 min</text>
<line x1="167.8" y1="448.82" x2="182.7" y2="448.82" stroke="#A5A5A5" stroke-width="1.2"/>
<text x="183.6" y="451.15" font-size="6.5" textLength="16.3" lengthAdjust="spacingAndGlyphs">2 min</text>
<line x1="167.8" y1="457.33" x2="182.7" y2="457.33" stroke="#FFC000" stroke-width="1.2"/>
<text x="183.6" y="459.66" font-size="6.5" textLength="16.3" lengthAdjust="spacingAndGlyphs">3 min</text>
<line x1="167.8" y1="465.84" x2="182.7" y2="465.84" stroke="#4472C4" stroke-width="1.2"/>
<text x="183.6" y="468.17" font-size="6.5" textLength="16.3" lengthAdjust="spacingAndGlyphs">4 min</text>
<line x1="167.8" y1="474.35" x2="182.7" y2="474.35" stroke="#70AD47" stroke-width="1.2"/>
<text x="183.6" y="476.68" font-size="6.5" textLength="16.3" lengthAdjust="spacingAndGlyphs">5 min</text>
<line x1="167.8" y1="482.86" x2="182.7" y2="482.86" stroke="#255E91" stroke-width="1.2"/>
<text x="183.6" y="485.19" font-size="6.5" textLength="19.89" lengthAdjust="spacingAndGlyphs">10 min</text>
<line x1="167.8" y1="491.37" x2="182.7" y2="491.37" stroke="#9E480E" stroke-width="1.2"/>
<text x="183.6" y="493.7" font-size="6.5" textLength="19.89" lengthAdjust="spacingAndGlyphs">15 min</text>
<line x1="167.8" y1="499.88" x2="182.7" y2="499.88" stroke="#636363" stroke-width="1.2"/>
<text x="183.6" y="502.21" font-size="6.5" textLength="19.89" lengthAdjust="spacingAndGlyphs">20 min</text>
<line x1="167.8" y1="508.39" x2="182.7" y2="508.39" stroke="#997300" stroke-width="1.2"/>
<text x="183.6" y="510.72" font-size="6.5" textLength="19.89" lengthAdjust="spacingAndGlyphs">30 min</text>
<clipPath id="c7"><rect x="260.5" y="421.2" width="176.5" height="100.1"/></clipPath>
<g clip-path="url(#c7)" fill="none" stroke-width="1.5" stroke-linejoin="round">
<polyline stroke="#5B9BD5" points="260.5,437.2 260.8,436.8 261.1,438.4 261.4,437.7 261.7,438.6 262,437.8 262.3,435.4 262.6,435.3 262.9,434.1 264,436.7 264.3,435.2 264.6,434.9 264.9,434 265.5,434.4 265.8,434.8 266.1,434.7 266.7,436.5 267,436.2 267.3,434.1 267.6,434.4 268.4,430.2 269,429 270.2,433.7 270.5,434.2 270.8,434 271.1,432.2 271.7,432.7 272,431.1 272.3,431.3 272.9,430.3 273.7,432.3 274,434.9 274.3,434.6 274.6,435.4 274.9,434.1 275.5,433.1 275.8,433.4 276.7,435.4 277.3,434.7 277.6,434.5 277.9,432.5 278.4,433.2 279.3,438.2 280.2,436.6 280.5,436.5 280.8,435.9 281.1,436.3 281.4,438 281.7,438.3 282,439.3 282.3,439 282.6,439.1 282.9,440.9 283.2,440.8 284,448.6 285.8,481.2 286.7,493 287.6,501 288.4,506.3 289.9,511.5 290.5,512.6 291.1,513.2 293.2,514.5 295.5,515.4 302.9,517.6 304,517.6 306.4,517.2 309.9,516 324,508.3 329.9,505.5 334.6,503.9 338.2,503.5 340.5,503.8 342.9,504.4 346.4,505.9 348.8,507.3 351.1,509.3 359.3,518.2 360.5,519.1 362.9,519.9 365.2,520.2 375.8,520.3 437,520.3"/>
<polyline stroke="#ED7D31" points="260.5,446.7 260.8,446.3 261.4,447.7 262,447 262.6,444.2 262.9,443.6 263.1,443.7 263.7,445.8 264,446.1 264.3,445.5 265.2,440.5 265.5,440.6 266.1,439.4 266.4,440.4 266.7,439.8 267.9,434.6 268.1,434 268.4,432 268.7,432.6 269,431 269.3,432.7 269.6,433.2 269.9,436 270.2,435.3 270.5,435.5 270.8,434.8 271.4,435.3 271.7,433.7 272.3,434.3 272.6,433.2 273.1,433.1 273.7,435.7 274.3,437.3 274.6,437.6 275.2,435.9 275.5,435.7 276.7,437.5 277,437.7 277.6,436.7 277.9,435 278.1,434.7 278.4,435.6 278.7,438.1 279.3,439.9 279.6,440.2 279.9,438.4 280.8,438.4 281.1,439.6 281.4,440.1 282,440.6 282.3,441.3 282.6,442.8 282.9,442.5 283.2,442.9 284,450.7 286.1,486.8 287,497.2 287.6,501.8 288.7,508 290.2,512.1 291.4,513.5 293.7,514.7 302.9,517.6 306.4,517.8 308.7,517.6 312.3,517.1 329.9,513.9 334.6,513.3 338.2,513.2 342.9,513.6 347.6,514.5 351.1,515.6 359.3,519.3 361.7,519.9 364,520.1 377,520.3 437,520.3"/>
<polyline stroke="#A5A5A5" points="260.5,444.6 261.1,446.7 261.4,446.8 261.7,446.4 262,445.2 262.3,444.8 262.6,442.7 262.9,442.2 263.4,443.5 264,444.3 264.3,444.4 264.6,442.2 264.9,441.7 265.5,439.2 265.8,439.1 266.1,439.7 266.4,439.3 268.1,432.6 269,430.9 269.3,431.5 270.2,435.6 270.5,435.8 270.8,434.5 271.1,434.7 271.4,434.1 271.7,434.3 272,432.8 272.3,433.3 272.6,432.9 272.9,431.9 273.7,433.8 274,436 274.3,436.7 274.6,435.6 275.2,435.1 275.5,435.6 275.8,434.9 276.1,435.6 276.4,435.6 276.7,436.6 277.6,435.6 278.1,433.9 278.4,434.3 279.3,439.5 279.9,438.1 280.2,438.6 280.8,437.4 281.4,438.3 281.7,440.2 282,440.1 282.3,440.2 283.2,443.4 283.4,443.6 283.7,446.5 286.1,486.4 287,496.8 287.9,503.5 288.7,507.8 290.2,512.1 291.4,513.5 293.4,514.6 301.7,517.3 302.9,517.6 305.2,517.8 311.1,517.7 329.9,515.8 338.2,515.4 342.9,515.7 347.6,516.3 351.1,517.1 359.3,519.6 361.7,520 364,520.1 377,520.3 437,520.3"/>
<polyline stroke="#FFC000" points="260.5,445.1 261.1,446.9 261.4,446.3 261.7,446.4 262,445.9 262.9,443.4 263.1,443.6 263.7,444.8 264,445.7 265.2,441 266.1,439.3 266.4,440 266.7,439.1 267.3,437.1 267.6,435.3 267.9,435.2 268.4,432.2 269,430.7 269.6,433.7 270.2,435.3 270.5,435.5 271.4,433.7 271.7,433.4 272,434.2 272.6,433.1 272.9,433.2 273.1,432.3 273.4,434 273.7,434.2 274,436.1 274.3,436.7 274.6,436.8 274.9,435.6 275.2,435.7 275.5,435.1 275.8,435.1 276.1,435.8 276.4,435.7 276.7,436.8 277,437.1 277.3,436 277.9,435.3 278.1,434.4 278.7,437.6 279.3,439.4 279.6,438.5 279.9,438.7 280.2,437.7 280.5,438.4 281.4,438.9 281.7,439.5 282.3,441.7 282.6,441.8 282.9,443 283.4,443.9 283.7,446.8 286.1,486.6 287,497 287.9,503.6 288.7,507.9 290.2,512.1 291.4,513.5 293.7,514.7 302.9,517.6 306.4,518.1 311.1,518.4 342.9,518.8 349.9,519.1 360.5,520 369.9,520.2 437,520.3"/>
<polyline stroke="#4472C4" points="260.5,445.1 261.1,445.8 261.4,446.6 261.7,445.8 262,446.1 262.6,442.8 262.9,442.9 263.1,442 263.4,443.5 263.7,443.9 264,443.7 264.3,444.3 264.6,441.6 264.9,441.5 265.2,439.7 265.8,438.5 266.1,439.2 266.4,438 266.7,437.7 267.3,436.4 268.7,430.3 269.3,430.9 269.9,434.7 270.5,434.2 270.8,434.7 271.1,434.7 272.3,432.5 272.6,432.5 273.1,431.5 273.4,432.1 274.3,436.5 274.6,435.4 274.9,435.8 275.2,434.6 275.5,435 275.8,434.8 276.1,435.3 276.4,435.5 276.7,436.3 277.6,435.2 277.9,434.1 278.1,434 278.4,434.7 279,437.8 279.6,438.9 279.9,438.5 280.2,437.1 280.5,438 280.8,437.1 281.1,437.6 281.4,439 281.7,439.1 282,440.2 282.3,439.8 282.6,441.4 283.4,443.5 283.7,446.1 286.1,486.1 287,496.6 287.9,503.3 288.7,507.7 290.2,512.1 291.4,513.5 293.7,514.7 302.9,517.6 307.6,518.2 313.4,518.5 342.9,519 360.5,520 369.9,520.2 437,520.3"/>
<polyline stroke="#70AD47" points="260.5,446.8 260.8,447.3 261.1,446.7 261.4,447.2 261.7,447.2 262,446.9 262.3,445.5 262.6,445.2 262.9,443.4 263.1,444.4 263.4,444.3 263.7,445.7 264,445.2 264.3,446 264.6,443.1 264.9,442.9 265.2,441.4 265.5,441 265.8,440 266.1,440.2 267.3,437.9 268.1,433.5 269,431.8 269.3,432.4 269.6,434.5 270.2,436.8 270.5,437 270.8,436.6 271.4,434.9 271.7,435.2 272.3,433.8 272.6,434.1 273.1,433.2 273.7,436 274.6,437.9 274.9,436.6 275.5,435.8 275.8,436.1 276.1,436.8 276.4,436.9 276.7,437.8 277,437.4 277.3,437.9 278.1,434.8 279,438.8 279.3,439.4 279.6,439.8 280.2,439.1 280.5,439.3 280.8,438.6 281.4,440.6 282,441.8 282.3,441.6 282.9,443.5 283.2,443.6 283.7,447.6 286.1,487.1 287,497.4 287.9,503.8 288.7,508 290.2,512.1 291.4,513.5 293.7,514.7 302.9,517.6 307.6,518.2 313.4,518.5 342.9,519 360.5,520 369.9,520.2 437,520.3"/>
<polyline stroke="#255E91" points="260.5,445.8 260.8,446.2 261.1,445.8 261.4,447.2 261.7,447.1 262.6,442.9 262.9,443.1 263.1,442.8 263.4,444.5 263.7,444.8 264.3,444.1 265.2,440.5 266.1,438.8 266.4,439.6 267,436.9 267.9,434.6 268.7,431.1 269,431.6 269.3,430.9 269.6,433.6 270.2,435.9 270.5,435.1 270.8,435.6 271.1,434.8 272,433.5 272.3,433.6 272.9,432.1 273.4,432.4 274,436.1 274.3,436.8 274.9,435.5 275.2,435.6 275.5,435.2 275.8,435.3 276.7,436.7 277,436.8 277.3,436.4 277.6,435.1 277.9,435.3 278.4,434.6 279,438.2 279.3,438.6 279.6,438.6 279.9,438.5 280.2,437.5 280.8,438.2 281.4,439.7 281.7,439.4 282,439.8 282.3,441.2 282.9,441.8 283.2,442.8 283.7,446.7 286.1,486.5 287,496.9 287.9,503.5 288.7,507.9 290.2,512.1 291.4,513.5 293.7,514.7 302.9,517.6 307.6,518.2 313.4,518.5 342.9,519 360.5,520 369.9,520.2 437,520.3"/>
<polyline stroke="#9E480E" points="260.5,446.5 260.8,447.7 261.4,448 261.7,448.4 262.3,446.9 262.6,445.1 262.9,444.4 263.1,444.7 263.7,446.8 264,447.2 264.3,446.6 265.2,442 265.5,441.4 265.8,441.6 266.1,440.8 266.4,441.6 268.7,433.2 269,433.2 269.3,433.8 270.2,437.7 270.5,436.5 270.8,437.4 271.4,436 271.7,435.8 272.3,434.5 272.9,433.8 273.4,434.5 274,438.3 274.3,439 275.5,437 276.1,436.9 276.4,438.5 276.7,437.6 277,439.1 277.6,436.5 277.9,436.7 278.1,435.7 279,439.6 279.6,441 279.9,440.7 280.2,439.2 280.5,439.5 280.8,439.2 281.1,440.7 281.4,440.3 281.7,442 282,442.6 282.3,443 282.6,442.5 283.4,446.4 284,451.8 285.8,483.5 286.7,494.7 287.6,502.2 288.7,508.2 290.2,512.1 291.4,513.5 293.7,514.7 302.9,517.6 307.6,518.2 313.4,518.5 342.9,519 360.5,520 369.9,520.2 437,520.3"/>
<polyline stroke="#636363" points="260.5,445.7 261.4,446.5 261.7,445.9 262,446 262.6,442.5 262.9,442.4 263.1,443.5 263.4,443.5 264,444.3 264.3,444 264.9,440.3 265.2,439.8 265.5,440.4 265.8,439.2 266.4,438.8 266.7,437.5 267,437.8 267.6,434.8 267.9,434.6 268.1,433.4 268.4,431.3 268.7,431.1 269,430 269.3,430.9 270.2,435.7 270.5,434.2 271.1,433.6 271.7,433.8 272,432.9 272.9,432.8 273.1,432.2 273.7,434.6 274.3,435.7 274.6,435.6 274.9,435.7 275.2,434.9 275.5,435.6 276.1,434.8 276.4,435.5 276.7,435.5 277,436.1 277.3,436.3 277.6,435.9 278.1,433.6 279.3,439.1 279.6,439.2 279.9,437.6 280.2,437.6 280.5,438.3 280.8,437.4 281.4,438.4 281.7,440 282,440.4 282.3,440.2 282.9,441.9 283.2,441.9 284,449.8 286.1,486.3 287,496.7 287.6,501.5 288.7,507.8 290.2,512.1 291.4,513.5 293.7,514.7 302.9,517.6 307.6,518.2 313.4,518.5 342.9,519 360.5,520 369.9,520.2 437,520.3"/>
<polyline stroke="#997300" points="260.5,444.1 260.8,445.9 261.1,445.8 261.4,445.2 261.7,445.6 262.6,442.6 262.9,442.1 263.1,442 263.4,443.1 263.7,443.2 264.3,444.3 264.9,440.1 265.2,440.3 265.5,440 265.8,438.9 267,436.6 268.1,432.2 268.4,431.9 268.7,430.4 269.3,431.2 270.2,435.1 270.8,434.1 271.1,434.3 271.4,433.5 271.7,433.4 272,432.4 272.3,431.9 272.6,431.9 272.9,431.3 273.4,432 273.7,434.4 274.3,436.2 274.6,435.2 274.9,435.3 275.2,435.1 275.8,434.2 276.7,435.6 277.3,435.5 278.1,434.1 278.4,434.7 279.3,438.8 279.9,438.2 280.2,437.4 280.5,437.9 280.8,437.2 281.1,437.3 281.4,437.8 282,440.2 282.3,439.9 282.6,440.3 283.2,442.8 283.4,443.4 283.7,445.9 286.1,486 287,496.6 287.9,503.3 288.7,507.7 290.2,512.1 291.4,513.5 293.4,514.6 302.9,517.6 307.6,518.2 313.4,518.5 342.9,519 360.5,520 369.9,520.2 437,520.3"/>
</g>
<path d="M260.5 421.7H437V521.3" fill="none" stroke="#1a1a1a" stroke-width="1.3"/>
<path d="M260.5 421.7V521.3H437" fill="none" stroke="#8c8c8c" stroke-width="1.7"/>
<text x="245.2" y="523.56" font-size="6.3" textLength="9" lengthAdjust="spacingAndGlyphs" class="tl">0.0</text>
<text x="245.2" y="511.11" font-size="6.3" textLength="9" lengthAdjust="spacingAndGlyphs" class="tl">0.5</text>
<text x="245.2" y="498.66" font-size="6.3" textLength="9" lengthAdjust="spacingAndGlyphs" class="tl">1.0</text>
<text x="245.2" y="486.21" font-size="6.3" textLength="9" lengthAdjust="spacingAndGlyphs" class="tl">1.5</text>
<text x="245.2" y="473.76" font-size="6.3" textLength="9" lengthAdjust="spacingAndGlyphs" class="tl">2.0</text>
<text x="245.2" y="461.31" font-size="6.3" textLength="9" lengthAdjust="spacingAndGlyphs" class="tl">2.5</text>
<text x="245.2" y="448.86" font-size="6.3" textLength="9" lengthAdjust="spacingAndGlyphs" class="tl">3.0</text>
<text x="245.2" y="436.41" font-size="6.3" textLength="9" lengthAdjust="spacingAndGlyphs" class="tl">3.5</text>
<text x="245.2" y="423.96" font-size="6.3" textLength="9" lengthAdjust="spacingAndGlyphs" class="tl">4.0</text>
<text x="255.5" y="531.85" font-size="6" textLength="10" lengthAdjust="spacingAndGlyphs" class="tl">200</text>
<text x="284.92" y="531.85" font-size="6" textLength="10" lengthAdjust="spacingAndGlyphs" class="tl">300</text>
<text x="314.33" y="531.85" font-size="6" textLength="10" lengthAdjust="spacingAndGlyphs" class="tl">400</text>
<text x="343.75" y="531.85" font-size="6" textLength="10" lengthAdjust="spacingAndGlyphs" class="tl">500</text>
<text x="373.17" y="531.85" font-size="6" textLength="10" lengthAdjust="spacingAndGlyphs" class="tl">600</text>
<text x="402.58" y="531.85" font-size="6" textLength="10" lengthAdjust="spacingAndGlyphs" class="tl">700</text>
<text x="432" y="531.85" font-size="6" textLength="10" lengthAdjust="spacingAndGlyphs" class="tl">800</text>
<text x="307" y="435.7" font-size="10" textLength="73.5" lengthAdjust="spacingAndGlyphs" class="tt">Fe/Cu/Ag 5:1:0.5</text>
<text x="319" y="544.01" font-size="8.4" textLength="59.3" lengthAdjust="spacingAndGlyphs">Wavelength (nm)</text>
<text transform="translate(236.3 498.3) rotate(-90)" x="0" y="0" font-size="8.2" textLength="62.7" lengthAdjust="spacingAndGlyphs">Absorbance (a.u)</text>
<line x1="388.6" y1="427.6" x2="404" y2="427.6" stroke="#5B9BD5" stroke-width="1.2"/>
<text x="404.6" y="429.86" font-size="6.3" textLength="15.8" lengthAdjust="spacingAndGlyphs">0 min</text>
<line x1="388.6" y1="436.6" x2="404" y2="436.6" stroke="#ED7D31" stroke-width="1.2"/>
<text x="404.6" y="438.86" font-size="6.3" textLength="15.8" lengthAdjust="spacingAndGlyphs">1 min</text>
<line x1="388.6" y1="445.6" x2="404" y2="445.6" stroke="#A5A5A5" stroke-width="1.2"/>
<text x="404.6" y="447.86" font-size="6.3" textLength="15.8" lengthAdjust="spacingAndGlyphs">2 min</text>
<line x1="388.6" y1="454.6" x2="404" y2="454.6" stroke="#FFC000" stroke-width="1.2"/>
<text x="404.6" y="456.86" font-size="6.3" textLength="15.8" lengthAdjust="spacingAndGlyphs">3 min</text>
<line x1="388.6" y1="463.6" x2="404" y2="463.6" stroke="#4472C4" stroke-width="1.2"/>
<text x="404.6" y="465.86" font-size="6.3" textLength="15.8" lengthAdjust="spacingAndGlyphs">4 min</text>
<line x1="388.6" y1="472.6" x2="404" y2="472.6" stroke="#70AD47" stroke-width="1.2"/>
<text x="404.6" y="474.86" font-size="6.3" textLength="15.8" lengthAdjust="spacingAndGlyphs">5 min</text>
<line x1="388.6" y1="481.6" x2="404" y2="481.6" stroke="#255E91" stroke-width="1.2"/>
<text x="404.6" y="483.86" font-size="6.3" textLength="19.28" lengthAdjust="spacingAndGlyphs">10 min</text>
<line x1="388.6" y1="490.6" x2="404" y2="490.6" stroke="#9E480E" stroke-width="1.2"/>
<text x="404.6" y="492.86" font-size="6.3" textLength="19.28" lengthAdjust="spacingAndGlyphs">15 min</text>
<line x1="388.6" y1="499.6" x2="404" y2="499.6" stroke="#636363" stroke-width="1.2"/>
<text x="404.6" y="501.86" font-size="6.3" textLength="19.28" lengthAdjust="spacingAndGlyphs">20 min</text>
<line x1="388.6" y1="508.6" x2="404" y2="508.6" stroke="#997300" stroke-width="1.2"/>
<text x="404.6" y="510.86" font-size="6.3" textLength="19.28" lengthAdjust="spacingAndGlyphs">30 min</text>
</svg>
</body></html>
